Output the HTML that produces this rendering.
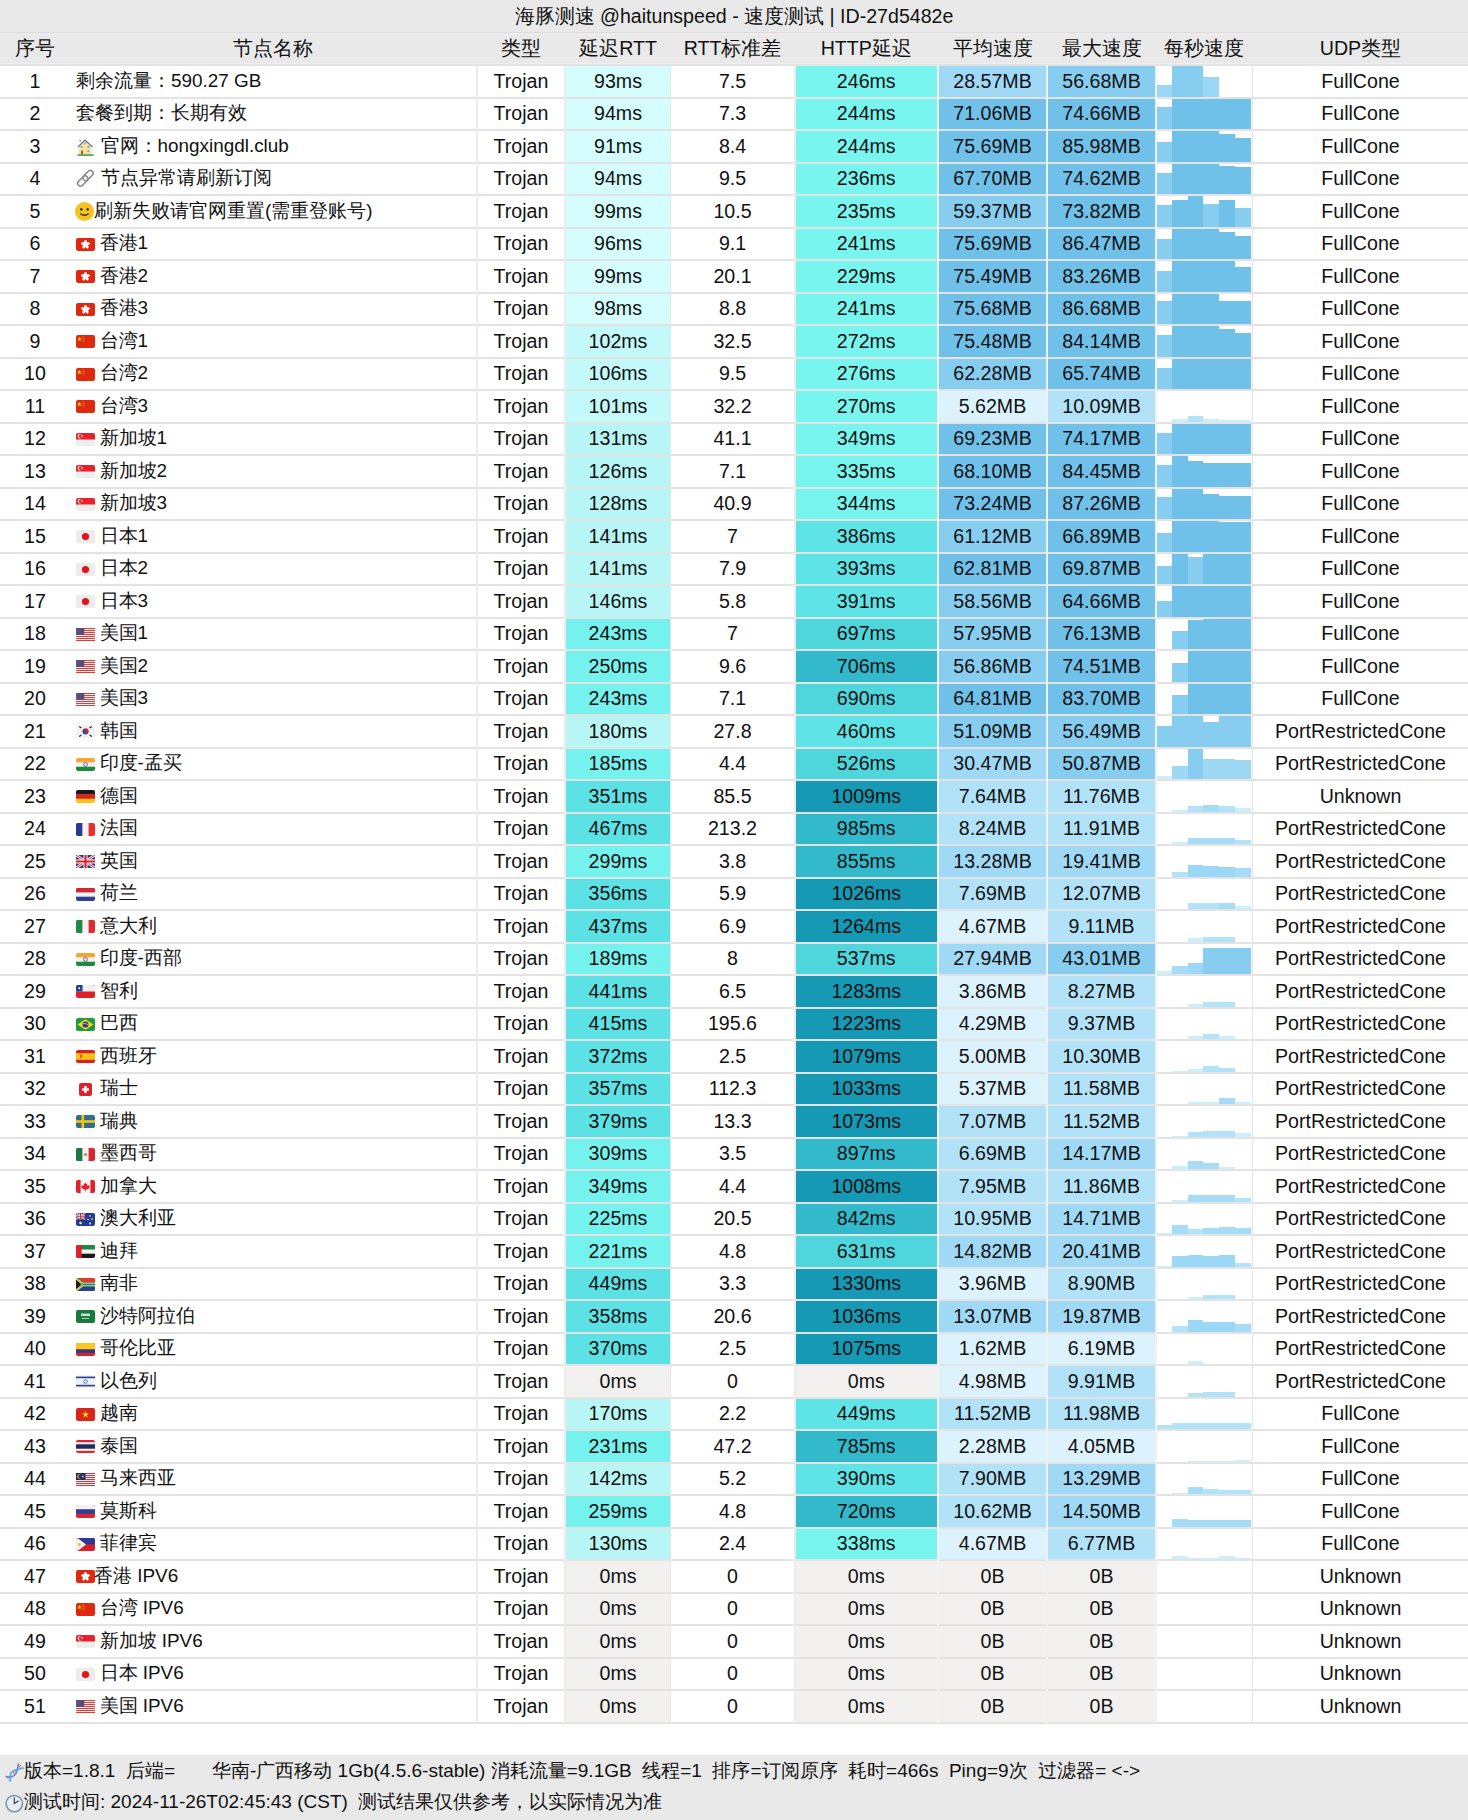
<!DOCTYPE html>
<html><head><meta charset="utf-8">
<style>
*{margin:0;padding:0;box-sizing:border-box}
html,body{width:1468px;height:1820px;overflow:hidden;background:#fff}
body{position:relative;font-family:"Liberation Sans",sans-serif;color:#111;font-size:19.6px}
.a{position:absolute}
.t{position:absolute;white-space:nowrap;line-height:30px;height:30px}
.c{text-align:center}
.bar{position:absolute}
</style></head><body>

<div class="a" style="left:0;top:0;width:1468px;height:65px;background:#e9e9e9"></div>
<div class="a" style="left:0;top:32px;width:1468px;height:1px;background:#dedede"></div>
<div class="a" style="left:0;top:34px;width:1468px;height:1px;background:#efefef"></div>
<div class="a" style="left:0;top:63px;width:1468px;height:1px;background:#efefef"></div>
<div class="t c" style="left:0;top:1px;width:1468px;line-height:30px">海豚测速 @haitunspeed - 速度测试 | ID-27d5482e</div>
<div class="t c" style="left:0px;top:33px;width:70px;line-height:30px">序号</div>
<div class="t c" style="left:70px;top:33px;width:406px;line-height:30px">节点名称</div>
<div class="t c" style="left:478px;top:33px;width:86px;line-height:30px">类型</div>
<div class="t c" style="left:566px;top:33px;width:104px;line-height:30px">延迟RTT</div>
<div class="t c" style="left:671px;top:33px;width:123px;line-height:30px">RTT标准差</div>
<div class="t c" style="left:795.5px;top:33px;width:141.5px;line-height:30px">HTTP延迟</div>
<div class="t c" style="left:939px;top:33px;width:107px;line-height:30px">平均速度</div>
<div class="t c" style="left:1048px;top:33px;width:107px;line-height:30px">最大速度</div>
<div class="t c" style="left:1157px;top:33px;width:94.5px;line-height:30px">每秒速度</div>
<div class="t c" style="left:1253px;top:33px;width:215px;line-height:30px">UDP类型</div>
<div class="a" style="left:566px;top:66.40px;width:104px;height:30.50px;background:#d5fdfd"></div>
<div class="a" style="left:795.5px;top:66.40px;width:141.5px;height:30.50px;background:#78f5ee"></div>
<div class="a" style="left:939px;top:66.40px;width:107px;height:30.50px;background:#a0d9f5"></div>
<div class="a" style="left:1048px;top:66.40px;width:107px;height:30.50px;background:#86cdf0"></div>
<div class="bar" style="left:1157px;top:84.80px;width:15.00px;height:12.10px;background:#9bd8f5"></div>
<div class="bar" style="left:1172px;top:66.40px;width:15.50px;height:30.50px;background:#86cdf0"></div>
<div class="bar" style="left:1187.5px;top:66.40px;width:15.70px;height:30.50px;background:#86cdf0"></div>
<div class="bar" style="left:1203.2px;top:77.20px;width:16.00px;height:19.70px;background:#9bd8f5"></div>
<div class="a" style="left:566px;top:98.90px;width:104px;height:30.50px;background:#d5fdfd"></div>
<div class="a" style="left:795.5px;top:98.90px;width:141.5px;height:30.50px;background:#78f5ee"></div>
<div class="a" style="left:939px;top:98.90px;width:107px;height:30.50px;background:#70c1ea"></div>
<div class="a" style="left:1048px;top:98.90px;width:107px;height:30.50px;background:#70c1ea"></div>
<div class="bar" style="left:1157px;top:107.00px;width:15.00px;height:22.40px;background:#86cdf0"></div>
<div class="bar" style="left:1172px;top:98.90px;width:15.50px;height:30.50px;background:#70c1ea"></div>
<div class="bar" style="left:1187.5px;top:98.90px;width:15.70px;height:30.50px;background:#70c1ea"></div>
<div class="bar" style="left:1203.2px;top:98.90px;width:16.00px;height:30.50px;background:#70c1ea"></div>
<div class="bar" style="left:1219.2px;top:98.90px;width:16.10px;height:30.50px;background:#70c1ea"></div>
<div class="bar" style="left:1235.3px;top:98.90px;width:16.20px;height:30.50px;background:#70c1ea"></div>
<div class="a" style="left:566px;top:131.40px;width:104px;height:30.50px;background:#d5fdfd"></div>
<div class="a" style="left:795.5px;top:131.40px;width:141.5px;height:30.50px;background:#78f5ee"></div>
<div class="a" style="left:939px;top:131.40px;width:107px;height:30.50px;background:#70c1ea"></div>
<div class="a" style="left:1048px;top:131.40px;width:107px;height:30.50px;background:#70c1ea"></div>
<div class="bar" style="left:1157px;top:142.20px;width:15.00px;height:19.70px;background:#86cdf0"></div>
<div class="bar" style="left:1172px;top:131.40px;width:15.50px;height:30.50px;background:#70c1ea"></div>
<div class="bar" style="left:1187.5px;top:131.40px;width:15.70px;height:30.50px;background:#70c1ea"></div>
<div class="bar" style="left:1203.2px;top:131.40px;width:16.00px;height:30.50px;background:#70c1ea"></div>
<div class="bar" style="left:1219.2px;top:134.20px;width:16.10px;height:27.70px;background:#70c1ea"></div>
<div class="bar" style="left:1235.3px;top:138.00px;width:16.20px;height:23.90px;background:#70c1ea"></div>
<div class="a" style="left:566px;top:163.90px;width:104px;height:30.50px;background:#d5fdfd"></div>
<div class="a" style="left:795.5px;top:163.90px;width:141.5px;height:30.50px;background:#78f5ee"></div>
<div class="a" style="left:939px;top:163.90px;width:107px;height:30.50px;background:#70c1ea"></div>
<div class="a" style="left:1048px;top:163.90px;width:107px;height:30.50px;background:#70c1ea"></div>
<div class="bar" style="left:1157px;top:173.00px;width:15.00px;height:21.40px;background:#86cdf0"></div>
<div class="bar" style="left:1172px;top:163.90px;width:15.50px;height:30.50px;background:#70c1ea"></div>
<div class="bar" style="left:1187.5px;top:163.90px;width:15.70px;height:30.50px;background:#70c1ea"></div>
<div class="bar" style="left:1203.2px;top:163.90px;width:16.00px;height:30.50px;background:#70c1ea"></div>
<div class="bar" style="left:1219.2px;top:166.00px;width:16.10px;height:28.40px;background:#70c1ea"></div>
<div class="bar" style="left:1235.3px;top:167.40px;width:16.20px;height:27.00px;background:#70c1ea"></div>
<div class="a" style="left:566px;top:196.40px;width:104px;height:30.50px;background:#d5fdfd"></div>
<div class="a" style="left:795.5px;top:196.40px;width:141.5px;height:30.50px;background:#78f5ee"></div>
<div class="a" style="left:939px;top:196.40px;width:107px;height:30.50px;background:#86cdf0"></div>
<div class="a" style="left:1048px;top:196.40px;width:107px;height:30.50px;background:#70c1ea"></div>
<div class="bar" style="left:1157px;top:205.30px;width:15.00px;height:21.60px;background:#86cdf0"></div>
<div class="bar" style="left:1172px;top:199.70px;width:15.50px;height:27.20px;background:#70c1ea"></div>
<div class="bar" style="left:1187.5px;top:196.40px;width:15.70px;height:30.50px;background:#70c1ea"></div>
<div class="bar" style="left:1203.2px;top:204.40px;width:16.00px;height:22.50px;background:#86cdf0"></div>
<div class="bar" style="left:1219.2px;top:200.20px;width:16.10px;height:26.70px;background:#70c1ea"></div>
<div class="bar" style="left:1235.3px;top:208.20px;width:16.20px;height:18.70px;background:#86cdf0"></div>
<div class="a" style="left:566px;top:228.90px;width:104px;height:30.50px;background:#d5fdfd"></div>
<div class="a" style="left:795.5px;top:228.90px;width:141.5px;height:30.50px;background:#78f5ee"></div>
<div class="a" style="left:939px;top:228.90px;width:107px;height:30.50px;background:#70c1ea"></div>
<div class="a" style="left:1048px;top:228.90px;width:107px;height:30.50px;background:#70c1ea"></div>
<div class="bar" style="left:1157px;top:239.30px;width:15.00px;height:20.10px;background:#86cdf0"></div>
<div class="bar" style="left:1172px;top:228.90px;width:15.50px;height:30.50px;background:#70c1ea"></div>
<div class="bar" style="left:1187.5px;top:228.90px;width:15.70px;height:30.50px;background:#70c1ea"></div>
<div class="bar" style="left:1203.2px;top:228.90px;width:16.00px;height:30.50px;background:#70c1ea"></div>
<div class="bar" style="left:1219.2px;top:232.20px;width:16.10px;height:27.20px;background:#70c1ea"></div>
<div class="bar" style="left:1235.3px;top:236.00px;width:16.20px;height:23.40px;background:#70c1ea"></div>
<div class="a" style="left:566px;top:261.40px;width:104px;height:30.50px;background:#d5fdfd"></div>
<div class="a" style="left:795.5px;top:261.40px;width:141.5px;height:30.50px;background:#78f5ee"></div>
<div class="a" style="left:939px;top:261.40px;width:107px;height:30.50px;background:#70c1ea"></div>
<div class="a" style="left:1048px;top:261.40px;width:107px;height:30.50px;background:#70c1ea"></div>
<div class="bar" style="left:1157px;top:271.00px;width:15.00px;height:20.90px;background:#86cdf0"></div>
<div class="bar" style="left:1172px;top:261.40px;width:15.50px;height:30.50px;background:#70c1ea"></div>
<div class="bar" style="left:1187.5px;top:261.40px;width:15.70px;height:30.50px;background:#70c1ea"></div>
<div class="bar" style="left:1203.2px;top:261.40px;width:16.00px;height:30.50px;background:#70c1ea"></div>
<div class="bar" style="left:1219.2px;top:261.40px;width:16.10px;height:30.50px;background:#70c1ea"></div>
<div class="bar" style="left:1235.3px;top:267.00px;width:16.20px;height:24.90px;background:#70c1ea"></div>
<div class="a" style="left:566px;top:293.90px;width:104px;height:30.50px;background:#d5fdfd"></div>
<div class="a" style="left:795.5px;top:293.90px;width:141.5px;height:30.50px;background:#78f5ee"></div>
<div class="a" style="left:939px;top:293.90px;width:107px;height:30.50px;background:#70c1ea"></div>
<div class="a" style="left:1048px;top:293.90px;width:107px;height:30.50px;background:#70c1ea"></div>
<div class="bar" style="left:1157px;top:301.00px;width:15.00px;height:23.40px;background:#86cdf0"></div>
<div class="bar" style="left:1172px;top:293.90px;width:15.50px;height:30.50px;background:#70c1ea"></div>
<div class="bar" style="left:1187.5px;top:293.90px;width:15.70px;height:30.50px;background:#70c1ea"></div>
<div class="bar" style="left:1203.2px;top:293.90px;width:16.00px;height:30.50px;background:#70c1ea"></div>
<div class="bar" style="left:1219.2px;top:300.60px;width:16.10px;height:23.80px;background:#70c1ea"></div>
<div class="bar" style="left:1235.3px;top:301.40px;width:16.20px;height:23.00px;background:#70c1ea"></div>
<div class="a" style="left:566px;top:326.40px;width:104px;height:30.50px;background:#c3f9f9"></div>
<div class="a" style="left:795.5px;top:326.40px;width:141.5px;height:30.50px;background:#78f5ee"></div>
<div class="a" style="left:939px;top:326.40px;width:107px;height:30.50px;background:#70c1ea"></div>
<div class="a" style="left:1048px;top:326.40px;width:107px;height:30.50px;background:#70c1ea"></div>
<div class="bar" style="left:1157px;top:335.00px;width:15.00px;height:21.90px;background:#86cdf0"></div>
<div class="bar" style="left:1172px;top:326.40px;width:15.50px;height:30.50px;background:#70c1ea"></div>
<div class="bar" style="left:1187.5px;top:326.40px;width:15.70px;height:30.50px;background:#70c1ea"></div>
<div class="bar" style="left:1203.2px;top:326.40px;width:16.00px;height:30.50px;background:#70c1ea"></div>
<div class="bar" style="left:1219.2px;top:329.00px;width:16.10px;height:27.90px;background:#70c1ea"></div>
<div class="bar" style="left:1235.3px;top:332.70px;width:16.20px;height:24.20px;background:#70c1ea"></div>
<div class="a" style="left:566px;top:358.90px;width:104px;height:30.50px;background:#c3f9f9"></div>
<div class="a" style="left:795.5px;top:358.90px;width:141.5px;height:30.50px;background:#78f5ee"></div>
<div class="a" style="left:939px;top:358.90px;width:107px;height:30.50px;background:#86cdf0"></div>
<div class="a" style="left:1048px;top:358.90px;width:107px;height:30.50px;background:#70c1ea"></div>
<div class="bar" style="left:1157px;top:368.00px;width:15.00px;height:21.40px;background:#86cdf0"></div>
<div class="bar" style="left:1172px;top:358.90px;width:15.50px;height:30.50px;background:#70c1ea"></div>
<div class="bar" style="left:1187.5px;top:358.90px;width:15.70px;height:30.50px;background:#70c1ea"></div>
<div class="bar" style="left:1203.2px;top:358.90px;width:16.00px;height:30.50px;background:#70c1ea"></div>
<div class="bar" style="left:1219.2px;top:358.90px;width:16.10px;height:30.50px;background:#70c1ea"></div>
<div class="bar" style="left:1235.3px;top:358.90px;width:16.20px;height:30.50px;background:#70c1ea"></div>
<div class="a" style="left:566px;top:391.40px;width:104px;height:30.50px;background:#c3f9f9"></div>
<div class="a" style="left:795.5px;top:391.40px;width:141.5px;height:30.50px;background:#78f5ee"></div>
<div class="a" style="left:939px;top:391.40px;width:107px;height:30.50px;background:#dcf2fd"></div>
<div class="a" style="left:1048px;top:391.40px;width:107px;height:30.50px;background:#b1e2f8"></div>
<div class="bar" style="left:1172px;top:418.60px;width:15.50px;height:3.30px;background:#cdeefb"></div>
<div class="bar" style="left:1187.5px;top:416.30px;width:15.70px;height:5.60px;background:#b3e3f8"></div>
<div class="bar" style="left:1203.2px;top:419.00px;width:16.00px;height:2.90px;background:#cdeefb"></div>
<div class="bar" style="left:1219.2px;top:420.00px;width:16.10px;height:1.90px;background:#cdeefb"></div>
<div class="bar" style="left:1235.3px;top:420.00px;width:16.20px;height:1.90px;background:#cdeefb"></div>
<div class="a" style="left:566px;top:423.90px;width:104px;height:30.50px;background:#b8f6f6"></div>
<div class="a" style="left:795.5px;top:423.90px;width:141.5px;height:30.50px;background:#78f5ee"></div>
<div class="a" style="left:939px;top:423.90px;width:107px;height:30.50px;background:#70c1ea"></div>
<div class="a" style="left:1048px;top:423.90px;width:107px;height:30.50px;background:#70c1ea"></div>
<div class="bar" style="left:1157px;top:433.00px;width:15.00px;height:21.40px;background:#86cdf0"></div>
<div class="bar" style="left:1172px;top:423.90px;width:15.50px;height:30.50px;background:#70c1ea"></div>
<div class="bar" style="left:1187.5px;top:423.90px;width:15.70px;height:30.50px;background:#70c1ea"></div>
<div class="bar" style="left:1203.2px;top:423.90px;width:16.00px;height:30.50px;background:#70c1ea"></div>
<div class="bar" style="left:1219.2px;top:423.90px;width:16.10px;height:30.50px;background:#70c1ea"></div>
<div class="bar" style="left:1235.3px;top:423.90px;width:16.20px;height:30.50px;background:#70c1ea"></div>
<div class="a" style="left:566px;top:456.40px;width:104px;height:30.50px;background:#b8f6f6"></div>
<div class="a" style="left:795.5px;top:456.40px;width:141.5px;height:30.50px;background:#78f5ee"></div>
<div class="a" style="left:939px;top:456.40px;width:107px;height:30.50px;background:#70c1ea"></div>
<div class="a" style="left:1048px;top:456.40px;width:107px;height:30.50px;background:#70c1ea"></div>
<div class="bar" style="left:1157px;top:465.20px;width:15.00px;height:21.70px;background:#86cdf0"></div>
<div class="bar" style="left:1172px;top:456.40px;width:15.50px;height:30.50px;background:#70c1ea"></div>
<div class="bar" style="left:1187.5px;top:460.70px;width:15.70px;height:26.20px;background:#70c1ea"></div>
<div class="bar" style="left:1203.2px;top:462.90px;width:16.00px;height:24.00px;background:#70c1ea"></div>
<div class="bar" style="left:1219.2px;top:462.90px;width:16.10px;height:24.00px;background:#70c1ea"></div>
<div class="bar" style="left:1235.3px;top:462.90px;width:16.20px;height:24.00px;background:#70c1ea"></div>
<div class="a" style="left:566px;top:488.90px;width:104px;height:30.50px;background:#b8f6f6"></div>
<div class="a" style="left:795.5px;top:488.90px;width:141.5px;height:30.50px;background:#78f5ee"></div>
<div class="a" style="left:939px;top:488.90px;width:107px;height:30.50px;background:#70c1ea"></div>
<div class="a" style="left:1048px;top:488.90px;width:107px;height:30.50px;background:#70c1ea"></div>
<div class="bar" style="left:1157px;top:497.00px;width:15.00px;height:22.40px;background:#86cdf0"></div>
<div class="bar" style="left:1172px;top:488.90px;width:15.50px;height:30.50px;background:#70c1ea"></div>
<div class="bar" style="left:1187.5px;top:488.90px;width:15.70px;height:30.50px;background:#70c1ea"></div>
<div class="bar" style="left:1203.2px;top:493.70px;width:16.00px;height:25.70px;background:#70c1ea"></div>
<div class="bar" style="left:1219.2px;top:496.40px;width:16.10px;height:23.00px;background:#70c1ea"></div>
<div class="bar" style="left:1235.3px;top:496.40px;width:16.20px;height:23.00px;background:#70c1ea"></div>
<div class="a" style="left:566px;top:521.40px;width:104px;height:30.50px;background:#b8f6f6"></div>
<div class="a" style="left:795.5px;top:521.40px;width:141.5px;height:30.50px;background:#5ee4e6"></div>
<div class="a" style="left:939px;top:521.40px;width:107px;height:30.50px;background:#86cdf0"></div>
<div class="a" style="left:1048px;top:521.40px;width:107px;height:30.50px;background:#70c1ea"></div>
<div class="bar" style="left:1157px;top:533.20px;width:15.00px;height:18.70px;background:#86cdf0"></div>
<div class="bar" style="left:1172px;top:521.40px;width:15.50px;height:30.50px;background:#70c1ea"></div>
<div class="bar" style="left:1187.5px;top:521.40px;width:15.70px;height:30.50px;background:#70c1ea"></div>
<div class="bar" style="left:1203.2px;top:521.40px;width:16.00px;height:30.50px;background:#70c1ea"></div>
<div class="bar" style="left:1219.2px;top:522.00px;width:16.10px;height:29.90px;background:#70c1ea"></div>
<div class="bar" style="left:1235.3px;top:522.00px;width:16.20px;height:29.90px;background:#70c1ea"></div>
<div class="a" style="left:566px;top:553.90px;width:104px;height:30.50px;background:#b8f6f6"></div>
<div class="a" style="left:795.5px;top:553.90px;width:141.5px;height:30.50px;background:#5ee4e6"></div>
<div class="a" style="left:939px;top:553.90px;width:107px;height:30.50px;background:#70c1ea"></div>
<div class="a" style="left:1048px;top:553.90px;width:107px;height:30.50px;background:#70c1ea"></div>
<div class="bar" style="left:1157px;top:565.90px;width:15.00px;height:18.50px;background:#86cdf0"></div>
<div class="bar" style="left:1172px;top:553.90px;width:15.50px;height:30.50px;background:#70c1ea"></div>
<div class="bar" style="left:1187.5px;top:556.80px;width:15.70px;height:27.60px;background:#86cdf0"></div>
<div class="bar" style="left:1203.2px;top:553.90px;width:16.00px;height:30.50px;background:#70c1ea"></div>
<div class="bar" style="left:1219.2px;top:553.90px;width:16.10px;height:30.50px;background:#70c1ea"></div>
<div class="bar" style="left:1235.3px;top:553.90px;width:16.20px;height:30.50px;background:#70c1ea"></div>
<div class="a" style="left:566px;top:586.40px;width:104px;height:30.50px;background:#b8f6f6"></div>
<div class="a" style="left:795.5px;top:586.40px;width:141.5px;height:30.50px;background:#5ee4e6"></div>
<div class="a" style="left:939px;top:586.40px;width:107px;height:30.50px;background:#86cdf0"></div>
<div class="a" style="left:1048px;top:586.40px;width:107px;height:30.50px;background:#70c1ea"></div>
<div class="bar" style="left:1157px;top:600.90px;width:15.00px;height:16.00px;background:#86cdf0"></div>
<div class="bar" style="left:1172px;top:586.40px;width:15.50px;height:30.50px;background:#70c1ea"></div>
<div class="bar" style="left:1187.5px;top:586.40px;width:15.70px;height:30.50px;background:#70c1ea"></div>
<div class="bar" style="left:1203.2px;top:586.40px;width:16.00px;height:30.50px;background:#70c1ea"></div>
<div class="bar" style="left:1219.2px;top:586.40px;width:16.10px;height:30.50px;background:#70c1ea"></div>
<div class="bar" style="left:1235.3px;top:586.40px;width:16.20px;height:30.50px;background:#70c1ea"></div>
<div class="a" style="left:566px;top:618.90px;width:104px;height:30.50px;background:#76f2ee"></div>
<div class="a" style="left:795.5px;top:618.90px;width:141.5px;height:30.50px;background:#4fd5dc"></div>
<div class="a" style="left:939px;top:618.90px;width:107px;height:30.50px;background:#86cdf0"></div>
<div class="a" style="left:1048px;top:618.90px;width:107px;height:30.50px;background:#70c1ea"></div>
<div class="bar" style="left:1172px;top:630.80px;width:15.50px;height:18.60px;background:#86cdf0"></div>
<div class="bar" style="left:1187.5px;top:620.30px;width:15.70px;height:29.10px;background:#70c1ea"></div>
<div class="bar" style="left:1203.2px;top:618.90px;width:16.00px;height:30.50px;background:#70c1ea"></div>
<div class="bar" style="left:1219.2px;top:618.90px;width:16.10px;height:30.50px;background:#70c1ea"></div>
<div class="bar" style="left:1235.3px;top:618.90px;width:16.20px;height:30.50px;background:#70c1ea"></div>
<div class="a" style="left:566px;top:651.40px;width:104px;height:30.50px;background:#76f2ee"></div>
<div class="a" style="left:795.5px;top:651.40px;width:141.5px;height:30.50px;background:#33b9cc"></div>
<div class="a" style="left:939px;top:651.40px;width:107px;height:30.50px;background:#86cdf0"></div>
<div class="a" style="left:1048px;top:651.40px;width:107px;height:30.50px;background:#70c1ea"></div>
<div class="bar" style="left:1172px;top:663.20px;width:15.50px;height:18.70px;background:#86cdf0"></div>
<div class="bar" style="left:1187.5px;top:651.40px;width:15.70px;height:30.50px;background:#70c1ea"></div>
<div class="bar" style="left:1203.2px;top:651.40px;width:16.00px;height:30.50px;background:#70c1ea"></div>
<div class="bar" style="left:1219.2px;top:651.40px;width:16.10px;height:30.50px;background:#70c1ea"></div>
<div class="bar" style="left:1235.3px;top:651.40px;width:16.20px;height:30.50px;background:#70c1ea"></div>
<div class="a" style="left:566px;top:683.90px;width:104px;height:30.50px;background:#76f2ee"></div>
<div class="a" style="left:795.5px;top:683.90px;width:141.5px;height:30.50px;background:#4fd5dc"></div>
<div class="a" style="left:939px;top:683.90px;width:107px;height:30.50px;background:#70c1ea"></div>
<div class="a" style="left:1048px;top:683.90px;width:107px;height:30.50px;background:#70c1ea"></div>
<div class="bar" style="left:1172px;top:695.00px;width:15.50px;height:19.40px;background:#86cdf0"></div>
<div class="bar" style="left:1187.5px;top:683.90px;width:15.70px;height:30.50px;background:#70c1ea"></div>
<div class="bar" style="left:1203.2px;top:683.90px;width:16.00px;height:30.50px;background:#70c1ea"></div>
<div class="bar" style="left:1219.2px;top:683.90px;width:16.10px;height:30.50px;background:#70c1ea"></div>
<div class="bar" style="left:1235.3px;top:683.90px;width:16.20px;height:30.50px;background:#70c1ea"></div>
<div class="a" style="left:566px;top:716.40px;width:104px;height:30.50px;background:#b8f6f6"></div>
<div class="a" style="left:795.5px;top:716.40px;width:141.5px;height:30.50px;background:#5ee4e6"></div>
<div class="a" style="left:939px;top:716.40px;width:107px;height:30.50px;background:#86cdf0"></div>
<div class="a" style="left:1048px;top:716.40px;width:107px;height:30.50px;background:#86cdf0"></div>
<div class="bar" style="left:1157px;top:726.30px;width:15.00px;height:20.60px;background:#86cdf0"></div>
<div class="bar" style="left:1172px;top:716.40px;width:15.50px;height:30.50px;background:#86cdf0"></div>
<div class="bar" style="left:1187.5px;top:716.40px;width:15.70px;height:30.50px;background:#86cdf0"></div>
<div class="bar" style="left:1203.2px;top:721.80px;width:16.00px;height:25.10px;background:#86cdf0"></div>
<div class="bar" style="left:1219.2px;top:716.40px;width:16.10px;height:30.50px;background:#86cdf0"></div>
<div class="bar" style="left:1235.3px;top:716.40px;width:16.20px;height:30.50px;background:#86cdf0"></div>
<div class="a" style="left:566px;top:748.90px;width:104px;height:30.50px;background:#76f2ee"></div>
<div class="a" style="left:795.5px;top:748.90px;width:141.5px;height:30.50px;background:#4fd5dc"></div>
<div class="a" style="left:939px;top:748.90px;width:107px;height:30.50px;background:#a0d9f5"></div>
<div class="a" style="left:1048px;top:748.90px;width:107px;height:30.50px;background:#86cdf0"></div>
<div class="bar" style="left:1157px;top:776.20px;width:15.00px;height:3.20px;background:#cdeefb"></div>
<div class="bar" style="left:1172px;top:765.80px;width:15.50px;height:13.60px;background:#9dd8f5"></div>
<div class="bar" style="left:1187.5px;top:748.90px;width:15.70px;height:30.50px;background:#86cdf0"></div>
<div class="bar" style="left:1203.2px;top:758.60px;width:16.00px;height:20.80px;background:#9dd8f5"></div>
<div class="bar" style="left:1219.2px;top:758.60px;width:16.10px;height:20.80px;background:#9dd8f5"></div>
<div class="bar" style="left:1235.3px;top:759.90px;width:16.20px;height:19.50px;background:#9dd8f5"></div>
<div class="a" style="left:566px;top:781.40px;width:104px;height:30.50px;background:#5ce2e5"></div>
<div class="a" style="left:795.5px;top:781.40px;width:141.5px;height:30.50px;background:#1699b4"></div>
<div class="a" style="left:939px;top:781.40px;width:107px;height:30.50px;background:#b1e2f8"></div>
<div class="a" style="left:1048px;top:781.40px;width:107px;height:30.50px;background:#b1e2f8"></div>
<div class="bar" style="left:1172px;top:809.70px;width:15.50px;height:2.20px;background:#cdeefb"></div>
<div class="bar" style="left:1187.5px;top:805.70px;width:15.70px;height:6.20px;background:#b3e3f8"></div>
<div class="bar" style="left:1203.2px;top:804.80px;width:16.00px;height:7.10px;background:#a7dcf6"></div>
<div class="bar" style="left:1219.2px;top:805.70px;width:16.10px;height:6.20px;background:#b3e3f8"></div>
<div class="bar" style="left:1235.3px;top:808.00px;width:16.20px;height:3.90px;background:#cdeefb"></div>
<div class="a" style="left:566px;top:813.90px;width:104px;height:30.50px;background:#5ce2e5"></div>
<div class="a" style="left:795.5px;top:813.90px;width:141.5px;height:30.50px;background:#33b9cc"></div>
<div class="a" style="left:939px;top:813.90px;width:107px;height:30.50px;background:#b1e2f8"></div>
<div class="a" style="left:1048px;top:813.90px;width:107px;height:30.50px;background:#b1e2f8"></div>
<div class="bar" style="left:1172px;top:842.40px;width:15.50px;height:2.00px;background:#cdeefb"></div>
<div class="bar" style="left:1187.5px;top:837.80px;width:15.70px;height:6.60px;background:#a7dcf6"></div>
<div class="bar" style="left:1203.2px;top:837.80px;width:16.00px;height:6.60px;background:#a7dcf6"></div>
<div class="bar" style="left:1219.2px;top:837.80px;width:16.10px;height:6.60px;background:#a7dcf6"></div>
<div class="bar" style="left:1235.3px;top:839.60px;width:16.20px;height:4.80px;background:#b3e3f8"></div>
<div class="a" style="left:566px;top:846.40px;width:104px;height:30.50px;background:#76f2ee"></div>
<div class="a" style="left:795.5px;top:846.40px;width:141.5px;height:30.50px;background:#33b9cc"></div>
<div class="a" style="left:939px;top:846.40px;width:107px;height:30.50px;background:#a0d9f5"></div>
<div class="a" style="left:1048px;top:846.40px;width:107px;height:30.50px;background:#a0d9f5"></div>
<div class="bar" style="left:1172px;top:872.00px;width:15.50px;height:4.90px;background:#b3e3f8"></div>
<div class="bar" style="left:1187.5px;top:865.00px;width:15.70px;height:11.90px;background:#9bd8f5"></div>
<div class="bar" style="left:1203.2px;top:866.00px;width:16.00px;height:10.90px;background:#9bd8f5"></div>
<div class="bar" style="left:1219.2px;top:866.50px;width:16.10px;height:10.40px;background:#9bd8f5"></div>
<div class="bar" style="left:1235.3px;top:867.70px;width:16.20px;height:9.20px;background:#a7dcf6"></div>
<div class="a" style="left:566px;top:878.90px;width:104px;height:30.50px;background:#5ce2e5"></div>
<div class="a" style="left:795.5px;top:878.90px;width:141.5px;height:30.50px;background:#1699b4"></div>
<div class="a" style="left:939px;top:878.90px;width:107px;height:30.50px;background:#b1e2f8"></div>
<div class="a" style="left:1048px;top:878.90px;width:107px;height:30.50px;background:#b1e2f8"></div>
<div class="bar" style="left:1172px;top:908.50px;width:15.50px;height:0.90px;background:#cdeefb"></div>
<div class="bar" style="left:1187.5px;top:903.00px;width:15.70px;height:6.40px;background:#b3e3f8"></div>
<div class="bar" style="left:1203.2px;top:903.00px;width:16.00px;height:6.40px;background:#b3e3f8"></div>
<div class="bar" style="left:1219.2px;top:902.60px;width:16.10px;height:6.80px;background:#a7dcf6"></div>
<div class="bar" style="left:1235.3px;top:905.80px;width:16.20px;height:3.60px;background:#cdeefb"></div>
<div class="a" style="left:566px;top:911.40px;width:104px;height:30.50px;background:#5ce2e5"></div>
<div class="a" style="left:795.5px;top:911.40px;width:141.5px;height:30.50px;background:#1699b4"></div>
<div class="a" style="left:939px;top:911.40px;width:107px;height:30.50px;background:#dcf2fd"></div>
<div class="a" style="left:1048px;top:911.40px;width:107px;height:30.50px;background:#b1e2f8"></div>
<div class="bar" style="left:1187.5px;top:938.00px;width:15.70px;height:3.90px;background:#cdeefb"></div>
<div class="bar" style="left:1203.2px;top:937.00px;width:16.00px;height:4.90px;background:#b3e3f8"></div>
<div class="bar" style="left:1219.2px;top:937.00px;width:16.10px;height:4.90px;background:#b3e3f8"></div>
<div class="a" style="left:566px;top:943.90px;width:104px;height:30.50px;background:#76f2ee"></div>
<div class="a" style="left:795.5px;top:943.90px;width:141.5px;height:30.50px;background:#4fd5dc"></div>
<div class="a" style="left:939px;top:943.90px;width:107px;height:30.50px;background:#a0d9f5"></div>
<div class="a" style="left:1048px;top:943.90px;width:107px;height:30.50px;background:#86cdf0"></div>
<div class="bar" style="left:1157px;top:971.00px;width:15.00px;height:3.40px;background:#cdeefb"></div>
<div class="bar" style="left:1172px;top:966.00px;width:15.50px;height:8.40px;background:#a7dcf6"></div>
<div class="bar" style="left:1187.5px;top:962.60px;width:15.70px;height:11.80px;background:#9bd8f5"></div>
<div class="bar" style="left:1203.2px;top:947.90px;width:16.00px;height:26.50px;background:#86cdf0"></div>
<div class="bar" style="left:1219.2px;top:947.90px;width:16.10px;height:26.50px;background:#86cdf0"></div>
<div class="bar" style="left:1235.3px;top:947.90px;width:16.20px;height:26.50px;background:#86cdf0"></div>
<div class="a" style="left:566px;top:976.40px;width:104px;height:30.50px;background:#5ce2e5"></div>
<div class="a" style="left:795.5px;top:976.40px;width:141.5px;height:30.50px;background:#1699b4"></div>
<div class="a" style="left:939px;top:976.40px;width:107px;height:30.50px;background:#dcf2fd"></div>
<div class="a" style="left:1048px;top:976.40px;width:107px;height:30.50px;background:#b1e2f8"></div>
<div class="bar" style="left:1187.5px;top:1004.00px;width:15.70px;height:2.90px;background:#cdeefb"></div>
<div class="bar" style="left:1203.2px;top:1002.30px;width:16.00px;height:4.60px;background:#b3e3f8"></div>
<div class="bar" style="left:1219.2px;top:1002.30px;width:16.10px;height:4.60px;background:#b3e3f8"></div>
<div class="a" style="left:566px;top:1008.90px;width:104px;height:30.50px;background:#5ce2e5"></div>
<div class="a" style="left:795.5px;top:1008.90px;width:141.5px;height:30.50px;background:#1699b4"></div>
<div class="a" style="left:939px;top:1008.90px;width:107px;height:30.50px;background:#dcf2fd"></div>
<div class="a" style="left:1048px;top:1008.90px;width:107px;height:30.50px;background:#b1e2f8"></div>
<div class="bar" style="left:1187.5px;top:1036.40px;width:15.70px;height:3.00px;background:#cdeefb"></div>
<div class="bar" style="left:1203.2px;top:1034.20px;width:16.00px;height:5.20px;background:#b3e3f8"></div>
<div class="bar" style="left:1219.2px;top:1036.40px;width:16.10px;height:3.00px;background:#cdeefb"></div>
<div class="a" style="left:566px;top:1041.40px;width:104px;height:30.50px;background:#5ce2e5"></div>
<div class="a" style="left:795.5px;top:1041.40px;width:141.5px;height:30.50px;background:#1699b4"></div>
<div class="a" style="left:939px;top:1041.40px;width:107px;height:30.50px;background:#dcf2fd"></div>
<div class="a" style="left:1048px;top:1041.40px;width:107px;height:30.50px;background:#b1e2f8"></div>
<div class="bar" style="left:1172px;top:1071.00px;width:15.50px;height:0.90px;background:#cdeefb"></div>
<div class="bar" style="left:1187.5px;top:1068.50px;width:15.70px;height:3.40px;background:#cdeefb"></div>
<div class="bar" style="left:1203.2px;top:1066.20px;width:16.00px;height:5.70px;background:#b3e3f8"></div>
<div class="bar" style="left:1219.2px;top:1067.60px;width:16.10px;height:4.30px;background:#b3e3f8"></div>
<div class="a" style="left:566px;top:1073.90px;width:104px;height:30.50px;background:#5ce2e5"></div>
<div class="a" style="left:795.5px;top:1073.90px;width:141.5px;height:30.50px;background:#1699b4"></div>
<div class="a" style="left:939px;top:1073.90px;width:107px;height:30.50px;background:#dcf2fd"></div>
<div class="a" style="left:1048px;top:1073.90px;width:107px;height:30.50px;background:#b1e2f8"></div>
<div class="bar" style="left:1172px;top:1103.80px;width:15.50px;height:0.60px;background:#cdeefb"></div>
<div class="bar" style="left:1187.5px;top:1102.00px;width:15.70px;height:2.40px;background:#cdeefb"></div>
<div class="bar" style="left:1203.2px;top:1102.00px;width:16.00px;height:2.40px;background:#cdeefb"></div>
<div class="bar" style="left:1219.2px;top:1097.60px;width:16.10px;height:6.80px;background:#a7dcf6"></div>
<div class="bar" style="left:1235.3px;top:1101.70px;width:16.20px;height:2.70px;background:#cdeefb"></div>
<div class="a" style="left:566px;top:1106.40px;width:104px;height:30.50px;background:#5ce2e5"></div>
<div class="a" style="left:795.5px;top:1106.40px;width:141.5px;height:30.50px;background:#1699b4"></div>
<div class="a" style="left:939px;top:1106.40px;width:107px;height:30.50px;background:#b1e2f8"></div>
<div class="a" style="left:1048px;top:1106.40px;width:107px;height:30.50px;background:#b1e2f8"></div>
<div class="bar" style="left:1172px;top:1136.10px;width:15.50px;height:0.80px;background:#cdeefb"></div>
<div class="bar" style="left:1187.5px;top:1132.00px;width:15.70px;height:4.90px;background:#b3e3f8"></div>
<div class="bar" style="left:1203.2px;top:1131.00px;width:16.00px;height:5.90px;background:#b3e3f8"></div>
<div class="bar" style="left:1219.2px;top:1130.70px;width:16.10px;height:6.20px;background:#b3e3f8"></div>
<div class="bar" style="left:1235.3px;top:1133.00px;width:16.20px;height:3.90px;background:#cdeefb"></div>
<div class="a" style="left:566px;top:1138.90px;width:104px;height:30.50px;background:#76f2ee"></div>
<div class="a" style="left:795.5px;top:1138.90px;width:141.5px;height:30.50px;background:#33b9cc"></div>
<div class="a" style="left:939px;top:1138.90px;width:107px;height:30.50px;background:#b1e2f8"></div>
<div class="a" style="left:1048px;top:1138.90px;width:107px;height:30.50px;background:#a0d9f5"></div>
<div class="bar" style="left:1172px;top:1165.60px;width:15.50px;height:3.80px;background:#cdeefb"></div>
<div class="bar" style="left:1187.5px;top:1161.00px;width:15.70px;height:8.40px;background:#a7dcf6"></div>
<div class="bar" style="left:1203.2px;top:1162.80px;width:16.00px;height:6.60px;background:#a7dcf6"></div>
<div class="bar" style="left:1219.2px;top:1166.80px;width:16.10px;height:2.60px;background:#cdeefb"></div>
<div class="a" style="left:566px;top:1171.40px;width:104px;height:30.50px;background:#76f2ee"></div>
<div class="a" style="left:795.5px;top:1171.40px;width:141.5px;height:30.50px;background:#1699b4"></div>
<div class="a" style="left:939px;top:1171.40px;width:107px;height:30.50px;background:#b1e2f8"></div>
<div class="a" style="left:1048px;top:1171.40px;width:107px;height:30.50px;background:#b1e2f8"></div>
<div class="bar" style="left:1172px;top:1199.60px;width:15.50px;height:2.30px;background:#cdeefb"></div>
<div class="bar" style="left:1187.5px;top:1195.00px;width:15.70px;height:6.90px;background:#a7dcf6"></div>
<div class="bar" style="left:1203.2px;top:1195.00px;width:16.00px;height:6.90px;background:#a7dcf6"></div>
<div class="bar" style="left:1219.2px;top:1195.00px;width:16.10px;height:6.90px;background:#a7dcf6"></div>
<div class="bar" style="left:1235.3px;top:1197.80px;width:16.20px;height:4.10px;background:#b3e3f8"></div>
<div class="a" style="left:566px;top:1203.90px;width:104px;height:30.50px;background:#76f2ee"></div>
<div class="a" style="left:795.5px;top:1203.90px;width:141.5px;height:30.50px;background:#33b9cc"></div>
<div class="a" style="left:939px;top:1203.90px;width:107px;height:30.50px;background:#b1e2f8"></div>
<div class="a" style="left:1048px;top:1203.90px;width:107px;height:30.50px;background:#a0d9f5"></div>
<div class="bar" style="left:1157px;top:1233.00px;width:15.00px;height:1.40px;background:#cdeefb"></div>
<div class="bar" style="left:1172px;top:1225.40px;width:15.50px;height:9.00px;background:#a7dcf6"></div>
<div class="bar" style="left:1187.5px;top:1229.00px;width:15.70px;height:5.40px;background:#b3e3f8"></div>
<div class="bar" style="left:1203.2px;top:1227.70px;width:16.00px;height:6.70px;background:#a7dcf6"></div>
<div class="bar" style="left:1219.2px;top:1226.80px;width:16.10px;height:7.60px;background:#a7dcf6"></div>
<div class="bar" style="left:1235.3px;top:1227.70px;width:16.20px;height:6.70px;background:#a7dcf6"></div>
<div class="a" style="left:566px;top:1236.40px;width:104px;height:30.50px;background:#76f2ee"></div>
<div class="a" style="left:795.5px;top:1236.40px;width:141.5px;height:30.50px;background:#4fd5dc"></div>
<div class="a" style="left:939px;top:1236.40px;width:107px;height:30.50px;background:#a0d9f5"></div>
<div class="a" style="left:1048px;top:1236.40px;width:107px;height:30.50px;background:#a0d9f5"></div>
<div class="bar" style="left:1157px;top:1266.10px;width:15.00px;height:0.80px;background:#cdeefb"></div>
<div class="bar" style="left:1172px;top:1255.70px;width:15.50px;height:11.20px;background:#9bd8f5"></div>
<div class="bar" style="left:1187.5px;top:1254.80px;width:15.70px;height:12.10px;background:#9bd8f5"></div>
<div class="bar" style="left:1203.2px;top:1255.70px;width:16.00px;height:11.20px;background:#9bd8f5"></div>
<div class="bar" style="left:1219.2px;top:1255.00px;width:16.10px;height:11.90px;background:#9bd8f5"></div>
<div class="bar" style="left:1235.3px;top:1262.60px;width:16.20px;height:4.30px;background:#b3e3f8"></div>
<div class="a" style="left:566px;top:1268.90px;width:104px;height:30.50px;background:#5ce2e5"></div>
<div class="a" style="left:795.5px;top:1268.90px;width:141.5px;height:30.50px;background:#1699b4"></div>
<div class="a" style="left:939px;top:1268.90px;width:107px;height:30.50px;background:#dcf2fd"></div>
<div class="a" style="left:1048px;top:1268.90px;width:107px;height:30.50px;background:#b1e2f8"></div>
<div class="bar" style="left:1187.5px;top:1297.00px;width:15.70px;height:2.40px;background:#cdeefb"></div>
<div class="bar" style="left:1203.2px;top:1294.80px;width:16.00px;height:4.60px;background:#b3e3f8"></div>
<div class="bar" style="left:1219.2px;top:1294.80px;width:16.10px;height:4.60px;background:#b3e3f8"></div>
<div class="a" style="left:566px;top:1301.40px;width:104px;height:30.50px;background:#5ce2e5"></div>
<div class="a" style="left:795.5px;top:1301.40px;width:141.5px;height:30.50px;background:#1699b4"></div>
<div class="a" style="left:939px;top:1301.40px;width:107px;height:30.50px;background:#a0d9f5"></div>
<div class="a" style="left:1048px;top:1301.40px;width:107px;height:30.50px;background:#a0d9f5"></div>
<div class="bar" style="left:1172px;top:1326.00px;width:15.50px;height:5.90px;background:#b3e3f8"></div>
<div class="bar" style="left:1187.5px;top:1320.00px;width:15.70px;height:11.90px;background:#9bd8f5"></div>
<div class="bar" style="left:1203.2px;top:1321.90px;width:16.00px;height:10.00px;background:#9bd8f5"></div>
<div class="bar" style="left:1219.2px;top:1321.90px;width:16.10px;height:10.00px;background:#9bd8f5"></div>
<div class="bar" style="left:1235.3px;top:1323.90px;width:16.20px;height:8.00px;background:#a7dcf6"></div>
<div class="a" style="left:566px;top:1333.90px;width:104px;height:30.50px;background:#5ce2e5"></div>
<div class="a" style="left:795.5px;top:1333.90px;width:141.5px;height:30.50px;background:#1699b4"></div>
<div class="a" style="left:939px;top:1333.90px;width:107px;height:30.50px;background:#dcf2fd"></div>
<div class="a" style="left:1048px;top:1333.90px;width:107px;height:30.50px;background:#dcf2fd"></div>
<div class="bar" style="left:1187.5px;top:1361.40px;width:15.70px;height:3.00px;background:#cdeefb"></div>
<div class="a" style="left:566px;top:1366.40px;width:104px;height:30.50px;background:#f2f1f0"></div>
<div class="a" style="left:795.5px;top:1366.40px;width:141.5px;height:30.50px;background:#f2f1f0"></div>
<div class="a" style="left:939px;top:1366.40px;width:107px;height:30.50px;background:#dcf2fd"></div>
<div class="a" style="left:1048px;top:1366.40px;width:107px;height:30.50px;background:#b1e2f8"></div>
<div class="bar" style="left:1187.5px;top:1392.50px;width:15.70px;height:4.40px;background:#b3e3f8"></div>
<div class="bar" style="left:1203.2px;top:1392.00px;width:16.00px;height:4.90px;background:#b3e3f8"></div>
<div class="bar" style="left:1219.2px;top:1391.50px;width:16.10px;height:5.40px;background:#b3e3f8"></div>
<div class="a" style="left:566px;top:1398.90px;width:104px;height:30.50px;background:#b8f6f6"></div>
<div class="a" style="left:795.5px;top:1398.90px;width:141.5px;height:30.50px;background:#5ee4e6"></div>
<div class="a" style="left:939px;top:1398.90px;width:107px;height:30.50px;background:#b1e2f8"></div>
<div class="a" style="left:1048px;top:1398.90px;width:107px;height:30.50px;background:#b1e2f8"></div>
<div class="bar" style="left:1157px;top:1424.60px;width:15.00px;height:4.80px;background:#b3e3f8"></div>
<div class="bar" style="left:1172px;top:1423.00px;width:15.50px;height:6.40px;background:#b3e3f8"></div>
<div class="bar" style="left:1187.5px;top:1423.00px;width:15.70px;height:6.40px;background:#b3e3f8"></div>
<div class="bar" style="left:1203.2px;top:1423.00px;width:16.00px;height:6.40px;background:#b3e3f8"></div>
<div class="bar" style="left:1219.2px;top:1423.00px;width:16.10px;height:6.40px;background:#b3e3f8"></div>
<div class="bar" style="left:1235.3px;top:1423.00px;width:16.20px;height:6.40px;background:#b3e3f8"></div>
<div class="a" style="left:566px;top:1431.40px;width:104px;height:30.50px;background:#76f2ee"></div>
<div class="a" style="left:795.5px;top:1431.40px;width:141.5px;height:30.50px;background:#33b9cc"></div>
<div class="a" style="left:939px;top:1431.40px;width:107px;height:30.50px;background:#dcf2fd"></div>
<div class="a" style="left:1048px;top:1431.40px;width:107px;height:30.50px;background:#dcf2fd"></div>
<div class="bar" style="left:1187.5px;top:1461.00px;width:15.70px;height:0.90px;background:#cdeefb"></div>
<div class="bar" style="left:1203.2px;top:1461.00px;width:16.00px;height:0.90px;background:#cdeefb"></div>
<div class="bar" style="left:1219.2px;top:1461.00px;width:16.10px;height:0.90px;background:#cdeefb"></div>
<div class="bar" style="left:1235.3px;top:1460.00px;width:16.20px;height:1.90px;background:#cdeefb"></div>
<div class="a" style="left:566px;top:1463.90px;width:104px;height:30.50px;background:#b8f6f6"></div>
<div class="a" style="left:795.5px;top:1463.90px;width:141.5px;height:30.50px;background:#5ee4e6"></div>
<div class="a" style="left:939px;top:1463.90px;width:107px;height:30.50px;background:#b1e2f8"></div>
<div class="a" style="left:1048px;top:1463.90px;width:107px;height:30.50px;background:#a0d9f5"></div>
<div class="bar" style="left:1172px;top:1492.50px;width:15.50px;height:1.90px;background:#cdeefb"></div>
<div class="bar" style="left:1187.5px;top:1486.50px;width:15.70px;height:7.90px;background:#a7dcf6"></div>
<div class="bar" style="left:1203.2px;top:1488.50px;width:16.00px;height:5.90px;background:#b3e3f8"></div>
<div class="bar" style="left:1219.2px;top:1489.50px;width:16.10px;height:4.90px;background:#b3e3f8"></div>
<div class="bar" style="left:1235.3px;top:1489.50px;width:16.20px;height:4.90px;background:#b3e3f8"></div>
<div class="a" style="left:566px;top:1496.40px;width:104px;height:30.50px;background:#76f2ee"></div>
<div class="a" style="left:795.5px;top:1496.40px;width:141.5px;height:30.50px;background:#33b9cc"></div>
<div class="a" style="left:939px;top:1496.40px;width:107px;height:30.50px;background:#b1e2f8"></div>
<div class="a" style="left:1048px;top:1496.40px;width:107px;height:30.50px;background:#a0d9f5"></div>
<div class="bar" style="left:1172px;top:1518.60px;width:15.50px;height:8.30px;background:#a7dcf6"></div>
<div class="bar" style="left:1187.5px;top:1520.20px;width:15.70px;height:6.70px;background:#a7dcf6"></div>
<div class="bar" style="left:1203.2px;top:1520.20px;width:16.00px;height:6.70px;background:#a7dcf6"></div>
<div class="bar" style="left:1219.2px;top:1520.20px;width:16.10px;height:6.70px;background:#a7dcf6"></div>
<div class="bar" style="left:1235.3px;top:1520.20px;width:16.20px;height:6.70px;background:#a7dcf6"></div>
<div class="a" style="left:566px;top:1528.90px;width:104px;height:30.50px;background:#b8f6f6"></div>
<div class="a" style="left:795.5px;top:1528.90px;width:141.5px;height:30.50px;background:#78f5ee"></div>
<div class="a" style="left:939px;top:1528.90px;width:107px;height:30.50px;background:#dcf2fd"></div>
<div class="a" style="left:1048px;top:1528.90px;width:107px;height:30.50px;background:#b1e2f8"></div>
<div class="bar" style="left:1172px;top:1556.20px;width:15.50px;height:3.20px;background:#cdeefb"></div>
<div class="bar" style="left:1187.5px;top:1557.80px;width:15.70px;height:1.60px;background:#cdeefb"></div>
<div class="bar" style="left:1203.2px;top:1557.80px;width:16.00px;height:1.60px;background:#cdeefb"></div>
<div class="bar" style="left:1219.2px;top:1556.20px;width:16.10px;height:3.20px;background:#cdeefb"></div>
<div class="bar" style="left:1235.3px;top:1558.40px;width:16.20px;height:1.00px;background:#cdeefb"></div>
<div class="a" style="left:566px;top:1561.40px;width:104px;height:30.50px;background:#f2f1f0"></div>
<div class="a" style="left:795.5px;top:1561.40px;width:141.5px;height:30.50px;background:#f2f1f0"></div>
<div class="a" style="left:939px;top:1561.40px;width:107px;height:30.50px;background:#f2f1f0"></div>
<div class="a" style="left:1048px;top:1561.40px;width:107px;height:30.50px;background:#f2f1f0"></div>
<div class="a" style="left:566px;top:1593.90px;width:104px;height:30.50px;background:#f2f1f0"></div>
<div class="a" style="left:795.5px;top:1593.90px;width:141.5px;height:30.50px;background:#f2f1f0"></div>
<div class="a" style="left:939px;top:1593.90px;width:107px;height:30.50px;background:#f2f1f0"></div>
<div class="a" style="left:1048px;top:1593.90px;width:107px;height:30.50px;background:#f2f1f0"></div>
<div class="a" style="left:566px;top:1626.40px;width:104px;height:30.50px;background:#f2f1f0"></div>
<div class="a" style="left:795.5px;top:1626.40px;width:141.5px;height:30.50px;background:#f2f1f0"></div>
<div class="a" style="left:939px;top:1626.40px;width:107px;height:30.50px;background:#f2f1f0"></div>
<div class="a" style="left:1048px;top:1626.40px;width:107px;height:30.50px;background:#f2f1f0"></div>
<div class="a" style="left:566px;top:1658.90px;width:104px;height:30.50px;background:#f2f1f0"></div>
<div class="a" style="left:795.5px;top:1658.90px;width:141.5px;height:30.50px;background:#f2f1f0"></div>
<div class="a" style="left:939px;top:1658.90px;width:107px;height:30.50px;background:#f2f1f0"></div>
<div class="a" style="left:1048px;top:1658.90px;width:107px;height:30.50px;background:#f2f1f0"></div>
<div class="a" style="left:566px;top:1691.40px;width:104px;height:30.50px;background:#f2f1f0"></div>
<div class="a" style="left:795.5px;top:1691.40px;width:141.5px;height:30.50px;background:#f2f1f0"></div>
<div class="a" style="left:939px;top:1691.40px;width:107px;height:30.50px;background:#f2f1f0"></div>
<div class="a" style="left:1048px;top:1691.40px;width:107px;height:30.50px;background:#f2f1f0"></div>
<div class="a" style="left:0;top:64.40px;width:1468px;height:2px;background:#e3e3e3"></div>
<div class="a" style="left:0;top:96.90px;width:1468px;height:2px;background:#e3e3e3"></div>
<div class="a" style="left:0;top:129.40px;width:1468px;height:2px;background:#e3e3e3"></div>
<div class="a" style="left:0;top:161.90px;width:1468px;height:2px;background:#e3e3e3"></div>
<div class="a" style="left:0;top:194.40px;width:1468px;height:2px;background:#e3e3e3"></div>
<div class="a" style="left:0;top:226.90px;width:1468px;height:2px;background:#e3e3e3"></div>
<div class="a" style="left:0;top:259.40px;width:1468px;height:2px;background:#e3e3e3"></div>
<div class="a" style="left:0;top:291.90px;width:1468px;height:2px;background:#e3e3e3"></div>
<div class="a" style="left:0;top:324.40px;width:1468px;height:2px;background:#e3e3e3"></div>
<div class="a" style="left:0;top:356.90px;width:1468px;height:2px;background:#e3e3e3"></div>
<div class="a" style="left:0;top:389.40px;width:1468px;height:2px;background:#e3e3e3"></div>
<div class="a" style="left:0;top:421.90px;width:1468px;height:2px;background:#e3e3e3"></div>
<div class="a" style="left:0;top:454.40px;width:1468px;height:2px;background:#e3e3e3"></div>
<div class="a" style="left:0;top:486.90px;width:1468px;height:2px;background:#e3e3e3"></div>
<div class="a" style="left:0;top:519.40px;width:1468px;height:2px;background:#e3e3e3"></div>
<div class="a" style="left:0;top:551.90px;width:1468px;height:2px;background:#e3e3e3"></div>
<div class="a" style="left:0;top:584.40px;width:1468px;height:2px;background:#e3e3e3"></div>
<div class="a" style="left:0;top:616.90px;width:1468px;height:2px;background:#e3e3e3"></div>
<div class="a" style="left:0;top:649.40px;width:1468px;height:2px;background:#e3e3e3"></div>
<div class="a" style="left:0;top:681.90px;width:1468px;height:2px;background:#e3e3e3"></div>
<div class="a" style="left:0;top:714.40px;width:1468px;height:2px;background:#e3e3e3"></div>
<div class="a" style="left:0;top:746.90px;width:1468px;height:2px;background:#e3e3e3"></div>
<div class="a" style="left:0;top:779.40px;width:1468px;height:2px;background:#e3e3e3"></div>
<div class="a" style="left:0;top:811.90px;width:1468px;height:2px;background:#e3e3e3"></div>
<div class="a" style="left:0;top:844.40px;width:1468px;height:2px;background:#e3e3e3"></div>
<div class="a" style="left:0;top:876.90px;width:1468px;height:2px;background:#e3e3e3"></div>
<div class="a" style="left:0;top:909.40px;width:1468px;height:2px;background:#e3e3e3"></div>
<div class="a" style="left:0;top:941.90px;width:1468px;height:2px;background:#e3e3e3"></div>
<div class="a" style="left:0;top:974.40px;width:1468px;height:2px;background:#e3e3e3"></div>
<div class="a" style="left:0;top:1006.90px;width:1468px;height:2px;background:#e3e3e3"></div>
<div class="a" style="left:0;top:1039.40px;width:1468px;height:2px;background:#e3e3e3"></div>
<div class="a" style="left:0;top:1071.90px;width:1468px;height:2px;background:#e3e3e3"></div>
<div class="a" style="left:0;top:1104.40px;width:1468px;height:2px;background:#e3e3e3"></div>
<div class="a" style="left:0;top:1136.90px;width:1468px;height:2px;background:#e3e3e3"></div>
<div class="a" style="left:0;top:1169.40px;width:1468px;height:2px;background:#e3e3e3"></div>
<div class="a" style="left:0;top:1201.90px;width:1468px;height:2px;background:#e3e3e3"></div>
<div class="a" style="left:0;top:1234.40px;width:1468px;height:2px;background:#e3e3e3"></div>
<div class="a" style="left:0;top:1266.90px;width:1468px;height:2px;background:#e3e3e3"></div>
<div class="a" style="left:0;top:1299.40px;width:1468px;height:2px;background:#e3e3e3"></div>
<div class="a" style="left:0;top:1331.90px;width:1468px;height:2px;background:#e3e3e3"></div>
<div class="a" style="left:0;top:1364.40px;width:1468px;height:2px;background:#e3e3e3"></div>
<div class="a" style="left:0;top:1396.90px;width:1468px;height:2px;background:#e3e3e3"></div>
<div class="a" style="left:0;top:1429.40px;width:1468px;height:2px;background:#e3e3e3"></div>
<div class="a" style="left:0;top:1461.90px;width:1468px;height:2px;background:#e3e3e3"></div>
<div class="a" style="left:0;top:1494.40px;width:1468px;height:2px;background:#e3e3e3"></div>
<div class="a" style="left:0;top:1526.90px;width:1468px;height:2px;background:#e3e3e3"></div>
<div class="a" style="left:0;top:1559.40px;width:1468px;height:2px;background:#e3e3e3"></div>
<div class="a" style="left:0;top:1591.90px;width:1468px;height:2px;background:#e3e3e3"></div>
<div class="a" style="left:0;top:1624.40px;width:1468px;height:2px;background:#e3e3e3"></div>
<div class="a" style="left:0;top:1656.90px;width:1468px;height:2px;background:#e3e3e3"></div>
<div class="a" style="left:0;top:1689.40px;width:1468px;height:2px;background:#e3e3e3"></div>
<div class="a" style="left:0;top:1721.90px;width:1468px;height:2px;background:#e3e3e3"></div>
<div class="a" style="left:476px;top:65px;width:2px;height:1657.9px;background:#ececec"></div>
<div class="a" style="left:564px;top:65px;width:2px;height:1657.9px;background:#ececec"></div>
<div class="a" style="left:670px;top:65px;width:1px;height:1657.9px;background:#e6e6e6"></div>
<div class="a" style="left:794px;top:65px;width:1.5px;height:1657.9px;background:#ececec"></div>
<div class="a" style="left:937px;top:65px;width:2px;height:1657.9px;background:#f2f2f2"></div>
<div class="a" style="left:1046px;top:65px;width:2px;height:1657.9px;background:#eef0f2"></div>
<div class="a" style="left:1155px;top:65px;width:2px;height:1657.9px;background:#eef0f2"></div>
<div class="a" style="left:1251.5px;top:65px;width:1.5px;height:1657.9px;background:#e6e6e6"></div>
<div class="t c" style="left:0;top:65.90px;width:70px">1</div>
<div class="t" style="left:76px;top:65.90px;font-size:18.9px">剩余流量：590.27 GB</div>
<div class="t c" style="left:478px;top:65.90px;width:86px">Trojan</div>
<div class="t c" style="left:566px;top:65.90px;width:104px">93ms</div>
<div class="t c" style="left:671px;top:65.90px;width:123px">7.5</div>
<div class="t c" style="left:795.5px;top:65.90px;width:141.5px">246ms</div>
<div class="t c" style="left:939px;top:65.90px;width:107px">28.57MB</div>
<div class="t c" style="left:1048px;top:65.90px;width:107px">56.68MB</div>
<div class="t c" style="left:1253px;top:65.90px;width:215px">FullCone</div>
<div class="t c" style="left:0;top:98.40px;width:70px">2</div>
<div class="t" style="left:76px;top:98.40px;font-size:18.9px">套餐到期：长期有效</div>
<div class="t c" style="left:478px;top:98.40px;width:86px">Trojan</div>
<div class="t c" style="left:566px;top:98.40px;width:104px">94ms</div>
<div class="t c" style="left:671px;top:98.40px;width:123px">7.3</div>
<div class="t c" style="left:795.5px;top:98.40px;width:141.5px">244ms</div>
<div class="t c" style="left:939px;top:98.40px;width:107px">71.06MB</div>
<div class="t c" style="left:1048px;top:98.40px;width:107px">74.66MB</div>
<div class="t c" style="left:1253px;top:98.40px;width:215px">FullCone</div>
<div class="t c" style="left:0;top:130.90px;width:70px">3</div>
<div class="a" style="left:0;top:146.40px;width:0;height:0"><svg width="18" height="19" viewBox="0 0 18 19" style="position:absolute;left:77px;top:-8px"><path d="M2 8.5L8 2.5L14.5 8.5V16.5H2z" fill="#fbe3a0"/><path d="M1 9L8 2L15.5 9" stroke="#5a7690" stroke-width="1.2" fill="none"/><path d="M2.2 3.2l.9-1.6 .9 1.8z" fill="#d9202a"/><path d="M7 6.5l2.2-2.2" stroke="#5a7690" stroke-width=".9"/><rect x="4" y="12.5" width="2" height="4" fill="#d9434a"/><circle cx="4.6" cy="9" r="1" fill="#38a8e0"/><circle cx="11.3" cy="9" r="1" fill="#38a8e0"/><circle cx="11.3" cy="13.3" r="1" fill="#38a8e0"/><rect x="0.5" y="16.3" width="16" height="1.5" fill="#2e9a3e"/></svg></div>
<div class="t" style="left:100.5px;top:130.90px;font-size:18.9px">官网：hongxingdl.club</div>
<div class="t c" style="left:478px;top:130.90px;width:86px">Trojan</div>
<div class="t c" style="left:566px;top:130.90px;width:104px">91ms</div>
<div class="t c" style="left:671px;top:130.90px;width:123px">8.4</div>
<div class="t c" style="left:795.5px;top:130.90px;width:141.5px">244ms</div>
<div class="t c" style="left:939px;top:130.90px;width:107px">75.69MB</div>
<div class="t c" style="left:1048px;top:130.90px;width:107px">85.98MB</div>
<div class="t c" style="left:1253px;top:130.90px;width:215px">FullCone</div>
<div class="t c" style="left:0;top:163.40px;width:70px">4</div>
<div class="a" style="left:0;top:178.90px;width:0;height:0"><svg width="19" height="19" viewBox="0 0 19 19" style="position:absolute;left:75.5px;top:-9.5px"><g fill="none" stroke="#888" stroke-width="1.6"><rect x="9.2" y="0.5" width="5.6" height="12" rx="2.8" transform="rotate(45 12 6.5)"/><rect x="4" y="6" width="5.6" height="12" rx="2.8" transform="rotate(45 6.8 12)"/></g></svg></div>
<div class="t" style="left:100.5px;top:163.40px;font-size:18.9px">节点异常请刷新订阅</div>
<div class="t c" style="left:478px;top:163.40px;width:86px">Trojan</div>
<div class="t c" style="left:566px;top:163.40px;width:104px">94ms</div>
<div class="t c" style="left:671px;top:163.40px;width:123px">9.5</div>
<div class="t c" style="left:795.5px;top:163.40px;width:141.5px">236ms</div>
<div class="t c" style="left:939px;top:163.40px;width:107px">67.70MB</div>
<div class="t c" style="left:1048px;top:163.40px;width:107px">74.62MB</div>
<div class="t c" style="left:1253px;top:163.40px;width:215px">FullCone</div>
<div class="t c" style="left:0;top:195.90px;width:70px">5</div>
<div class="a" style="left:0;top:211.40px;width:0;height:0"><svg width="19" height="19" viewBox="0 0 19 19" style="position:absolute;left:75.3px;top:-9.5px"><circle cx="9.5" cy="9.5" r="9.5" fill="#f6c324"/><ellipse cx="6.3" cy="7.2" rx="1.1" ry="1.5" fill="#3a2a10"/><ellipse cx="12.7" cy="7.2" rx="1.1" ry="1.5" fill="#3a2a10"/><path d="M5.3 11.5q4.2 3.4 8.4 0" stroke="#3a2a10" stroke-width="1.4" fill="none"/></svg></div>
<div class="t" style="left:94px;top:195.90px;font-size:18.9px">刷新失败请官网重置(需重登账号)</div>
<div class="t c" style="left:478px;top:195.90px;width:86px">Trojan</div>
<div class="t c" style="left:566px;top:195.90px;width:104px">99ms</div>
<div class="t c" style="left:671px;top:195.90px;width:123px">10.5</div>
<div class="t c" style="left:795.5px;top:195.90px;width:141.5px">235ms</div>
<div class="t c" style="left:939px;top:195.90px;width:107px">59.37MB</div>
<div class="t c" style="left:1048px;top:195.90px;width:107px">73.82MB</div>
<div class="t c" style="left:1253px;top:195.90px;width:215px">FullCone</div>
<div class="t c" style="left:0;top:228.40px;width:70px">6</div>
<svg class="a" width="19" height="13" viewBox="0 0 19 13" style="left:75.5px;top:237.90px"><rect width="19" height="13" rx="2" fill="#de2910"/><g fill="#fff" transform="translate(9.5 6.5)"><ellipse cx="0" cy="-2.3" rx="1.5" ry="2.2" transform="rotate(0)"/><ellipse cx="0" cy="-2.3" rx="1.5" ry="2.2" transform="rotate(72)"/><ellipse cx="0" cy="-2.3" rx="1.5" ry="2.2" transform="rotate(144)"/><ellipse cx="0" cy="-2.3" rx="1.5" ry="2.2" transform="rotate(216)"/><ellipse cx="0" cy="-2.3" rx="1.5" ry="2.2" transform="rotate(288)"/></g></svg>
<div class="t" style="left:99.5px;top:228.40px;font-size:18.9px">香港1</div>
<div class="t c" style="left:478px;top:228.40px;width:86px">Trojan</div>
<div class="t c" style="left:566px;top:228.40px;width:104px">96ms</div>
<div class="t c" style="left:671px;top:228.40px;width:123px">9.1</div>
<div class="t c" style="left:795.5px;top:228.40px;width:141.5px">241ms</div>
<div class="t c" style="left:939px;top:228.40px;width:107px">75.69MB</div>
<div class="t c" style="left:1048px;top:228.40px;width:107px">86.47MB</div>
<div class="t c" style="left:1253px;top:228.40px;width:215px">FullCone</div>
<div class="t c" style="left:0;top:260.90px;width:70px">7</div>
<svg class="a" width="19" height="13" viewBox="0 0 19 13" style="left:75.5px;top:270.40px"><rect width="19" height="13" rx="2" fill="#de2910"/><g fill="#fff" transform="translate(9.5 6.5)"><ellipse cx="0" cy="-2.3" rx="1.5" ry="2.2" transform="rotate(0)"/><ellipse cx="0" cy="-2.3" rx="1.5" ry="2.2" transform="rotate(72)"/><ellipse cx="0" cy="-2.3" rx="1.5" ry="2.2" transform="rotate(144)"/><ellipse cx="0" cy="-2.3" rx="1.5" ry="2.2" transform="rotate(216)"/><ellipse cx="0" cy="-2.3" rx="1.5" ry="2.2" transform="rotate(288)"/></g></svg>
<div class="t" style="left:99.5px;top:260.90px;font-size:18.9px">香港2</div>
<div class="t c" style="left:478px;top:260.90px;width:86px">Trojan</div>
<div class="t c" style="left:566px;top:260.90px;width:104px">99ms</div>
<div class="t c" style="left:671px;top:260.90px;width:123px">20.1</div>
<div class="t c" style="left:795.5px;top:260.90px;width:141.5px">229ms</div>
<div class="t c" style="left:939px;top:260.90px;width:107px">75.49MB</div>
<div class="t c" style="left:1048px;top:260.90px;width:107px">83.26MB</div>
<div class="t c" style="left:1253px;top:260.90px;width:215px">FullCone</div>
<div class="t c" style="left:0;top:293.40px;width:70px">8</div>
<svg class="a" width="19" height="13" viewBox="0 0 19 13" style="left:75.5px;top:302.90px"><rect width="19" height="13" rx="2" fill="#de2910"/><g fill="#fff" transform="translate(9.5 6.5)"><ellipse cx="0" cy="-2.3" rx="1.5" ry="2.2" transform="rotate(0)"/><ellipse cx="0" cy="-2.3" rx="1.5" ry="2.2" transform="rotate(72)"/><ellipse cx="0" cy="-2.3" rx="1.5" ry="2.2" transform="rotate(144)"/><ellipse cx="0" cy="-2.3" rx="1.5" ry="2.2" transform="rotate(216)"/><ellipse cx="0" cy="-2.3" rx="1.5" ry="2.2" transform="rotate(288)"/></g></svg>
<div class="t" style="left:99.5px;top:293.40px;font-size:18.9px">香港3</div>
<div class="t c" style="left:478px;top:293.40px;width:86px">Trojan</div>
<div class="t c" style="left:566px;top:293.40px;width:104px">98ms</div>
<div class="t c" style="left:671px;top:293.40px;width:123px">8.8</div>
<div class="t c" style="left:795.5px;top:293.40px;width:141.5px">241ms</div>
<div class="t c" style="left:939px;top:293.40px;width:107px">75.68MB</div>
<div class="t c" style="left:1048px;top:293.40px;width:107px">86.68MB</div>
<div class="t c" style="left:1253px;top:293.40px;width:215px">FullCone</div>
<div class="t c" style="left:0;top:325.90px;width:70px">9</div>
<svg class="a" width="19" height="13" viewBox="0 0 19 13" style="left:75.5px;top:335.40px"><rect width="19" height="13" rx="2" fill="#de2910"/><polygon fill="#ffde00" points="3.5,1.8 4.1,3.5 5.9,3.5 4.5,4.6 5,6.3 3.5,5.3 2,6.3 2.5,4.6 1.1,3.5 2.9,3.5"/><circle cx="7" cy="1.8" r=".5" fill="#ffde00"/><circle cx="8" cy="3.3" r=".5" fill="#ffde00"/><circle cx="8" cy="5.1" r=".5" fill="#ffde00"/><circle cx="7" cy="6.5" r=".5" fill="#ffde00"/></svg>
<div class="t" style="left:99.5px;top:325.90px;font-size:18.9px">台湾1</div>
<div class="t c" style="left:478px;top:325.90px;width:86px">Trojan</div>
<div class="t c" style="left:566px;top:325.90px;width:104px">102ms</div>
<div class="t c" style="left:671px;top:325.90px;width:123px">32.5</div>
<div class="t c" style="left:795.5px;top:325.90px;width:141.5px">272ms</div>
<div class="t c" style="left:939px;top:325.90px;width:107px">75.48MB</div>
<div class="t c" style="left:1048px;top:325.90px;width:107px">84.14MB</div>
<div class="t c" style="left:1253px;top:325.90px;width:215px">FullCone</div>
<div class="t c" style="left:0;top:358.40px;width:70px">10</div>
<svg class="a" width="19" height="13" viewBox="0 0 19 13" style="left:75.5px;top:367.90px"><rect width="19" height="13" rx="2" fill="#de2910"/><polygon fill="#ffde00" points="3.5,1.8 4.1,3.5 5.9,3.5 4.5,4.6 5,6.3 3.5,5.3 2,6.3 2.5,4.6 1.1,3.5 2.9,3.5"/><circle cx="7" cy="1.8" r=".5" fill="#ffde00"/><circle cx="8" cy="3.3" r=".5" fill="#ffde00"/><circle cx="8" cy="5.1" r=".5" fill="#ffde00"/><circle cx="7" cy="6.5" r=".5" fill="#ffde00"/></svg>
<div class="t" style="left:99.5px;top:358.40px;font-size:18.9px">台湾2</div>
<div class="t c" style="left:478px;top:358.40px;width:86px">Trojan</div>
<div class="t c" style="left:566px;top:358.40px;width:104px">106ms</div>
<div class="t c" style="left:671px;top:358.40px;width:123px">9.5</div>
<div class="t c" style="left:795.5px;top:358.40px;width:141.5px">276ms</div>
<div class="t c" style="left:939px;top:358.40px;width:107px">62.28MB</div>
<div class="t c" style="left:1048px;top:358.40px;width:107px">65.74MB</div>
<div class="t c" style="left:1253px;top:358.40px;width:215px">FullCone</div>
<div class="t c" style="left:0;top:390.90px;width:70px">11</div>
<svg class="a" width="19" height="13" viewBox="0 0 19 13" style="left:75.5px;top:400.40px"><rect width="19" height="13" rx="2" fill="#de2910"/><polygon fill="#ffde00" points="3.5,1.8 4.1,3.5 5.9,3.5 4.5,4.6 5,6.3 3.5,5.3 2,6.3 2.5,4.6 1.1,3.5 2.9,3.5"/><circle cx="7" cy="1.8" r=".5" fill="#ffde00"/><circle cx="8" cy="3.3" r=".5" fill="#ffde00"/><circle cx="8" cy="5.1" r=".5" fill="#ffde00"/><circle cx="7" cy="6.5" r=".5" fill="#ffde00"/></svg>
<div class="t" style="left:99.5px;top:390.90px;font-size:18.9px">台湾3</div>
<div class="t c" style="left:478px;top:390.90px;width:86px">Trojan</div>
<div class="t c" style="left:566px;top:390.90px;width:104px">101ms</div>
<div class="t c" style="left:671px;top:390.90px;width:123px">32.2</div>
<div class="t c" style="left:795.5px;top:390.90px;width:141.5px">270ms</div>
<div class="t c" style="left:939px;top:390.90px;width:107px">5.62MB</div>
<div class="t c" style="left:1048px;top:390.90px;width:107px">10.09MB</div>
<div class="t c" style="left:1253px;top:390.90px;width:215px">FullCone</div>
<div class="t c" style="left:0;top:423.40px;width:70px">12</div>
<svg class="a" width="19" height="13" viewBox="0 0 19 13" style="left:75.5px;top:432.90px"><rect width="19" height="13" rx="2" fill="#eeeeee"/><path d="M2 0h15a2 2 0 0 1 2 2v4.5H0V2a2 2 0 0 1 2-2z" fill="#e8202a"/><circle cx="3.9" cy="3.3" r="2.2" fill="#fff"/><circle cx="4.8" cy="3.3" r="2" fill="#e8202a"/><circle cx="6" cy="3.2" r=".9" fill="#fff" opacity=".8"/></svg>
<div class="t" style="left:99.5px;top:423.40px;font-size:18.9px">新加坡1</div>
<div class="t c" style="left:478px;top:423.40px;width:86px">Trojan</div>
<div class="t c" style="left:566px;top:423.40px;width:104px">131ms</div>
<div class="t c" style="left:671px;top:423.40px;width:123px">41.1</div>
<div class="t c" style="left:795.5px;top:423.40px;width:141.5px">349ms</div>
<div class="t c" style="left:939px;top:423.40px;width:107px">69.23MB</div>
<div class="t c" style="left:1048px;top:423.40px;width:107px">74.17MB</div>
<div class="t c" style="left:1253px;top:423.40px;width:215px">FullCone</div>
<div class="t c" style="left:0;top:455.90px;width:70px">13</div>
<svg class="a" width="19" height="13" viewBox="0 0 19 13" style="left:75.5px;top:465.40px"><rect width="19" height="13" rx="2" fill="#eeeeee"/><path d="M2 0h15a2 2 0 0 1 2 2v4.5H0V2a2 2 0 0 1 2-2z" fill="#e8202a"/><circle cx="3.9" cy="3.3" r="2.2" fill="#fff"/><circle cx="4.8" cy="3.3" r="2" fill="#e8202a"/><circle cx="6" cy="3.2" r=".9" fill="#fff" opacity=".8"/></svg>
<div class="t" style="left:99.5px;top:455.90px;font-size:18.9px">新加坡2</div>
<div class="t c" style="left:478px;top:455.90px;width:86px">Trojan</div>
<div class="t c" style="left:566px;top:455.90px;width:104px">126ms</div>
<div class="t c" style="left:671px;top:455.90px;width:123px">7.1</div>
<div class="t c" style="left:795.5px;top:455.90px;width:141.5px">335ms</div>
<div class="t c" style="left:939px;top:455.90px;width:107px">68.10MB</div>
<div class="t c" style="left:1048px;top:455.90px;width:107px">84.45MB</div>
<div class="t c" style="left:1253px;top:455.90px;width:215px">FullCone</div>
<div class="t c" style="left:0;top:488.40px;width:70px">14</div>
<svg class="a" width="19" height="13" viewBox="0 0 19 13" style="left:75.5px;top:497.90px"><rect width="19" height="13" rx="2" fill="#eeeeee"/><path d="M2 0h15a2 2 0 0 1 2 2v4.5H0V2a2 2 0 0 1 2-2z" fill="#e8202a"/><circle cx="3.9" cy="3.3" r="2.2" fill="#fff"/><circle cx="4.8" cy="3.3" r="2" fill="#e8202a"/><circle cx="6" cy="3.2" r=".9" fill="#fff" opacity=".8"/></svg>
<div class="t" style="left:99.5px;top:488.40px;font-size:18.9px">新加坡3</div>
<div class="t c" style="left:478px;top:488.40px;width:86px">Trojan</div>
<div class="t c" style="left:566px;top:488.40px;width:104px">128ms</div>
<div class="t c" style="left:671px;top:488.40px;width:123px">40.9</div>
<div class="t c" style="left:795.5px;top:488.40px;width:141.5px">344ms</div>
<div class="t c" style="left:939px;top:488.40px;width:107px">73.24MB</div>
<div class="t c" style="left:1048px;top:488.40px;width:107px">87.26MB</div>
<div class="t c" style="left:1253px;top:488.40px;width:215px">FullCone</div>
<div class="t c" style="left:0;top:520.90px;width:70px">15</div>
<svg class="a" width="19" height="13" viewBox="0 0 19 13" style="left:75.5px;top:530.40px"><rect width="19" height="13" rx="2" fill="#ececec"/><circle cx="9.5" cy="6.5" r="3.6" fill="#e0151b"/></svg>
<div class="t" style="left:99.5px;top:520.90px;font-size:18.9px">日本1</div>
<div class="t c" style="left:478px;top:520.90px;width:86px">Trojan</div>
<div class="t c" style="left:566px;top:520.90px;width:104px">141ms</div>
<div class="t c" style="left:671px;top:520.90px;width:123px">7</div>
<div class="t c" style="left:795.5px;top:520.90px;width:141.5px">386ms</div>
<div class="t c" style="left:939px;top:520.90px;width:107px">61.12MB</div>
<div class="t c" style="left:1048px;top:520.90px;width:107px">66.89MB</div>
<div class="t c" style="left:1253px;top:520.90px;width:215px">FullCone</div>
<div class="t c" style="left:0;top:553.40px;width:70px">16</div>
<svg class="a" width="19" height="13" viewBox="0 0 19 13" style="left:75.5px;top:562.90px"><rect width="19" height="13" rx="2" fill="#ececec"/><circle cx="9.5" cy="6.5" r="3.6" fill="#e0151b"/></svg>
<div class="t" style="left:99.5px;top:553.40px;font-size:18.9px">日本2</div>
<div class="t c" style="left:478px;top:553.40px;width:86px">Trojan</div>
<div class="t c" style="left:566px;top:553.40px;width:104px">141ms</div>
<div class="t c" style="left:671px;top:553.40px;width:123px">7.9</div>
<div class="t c" style="left:795.5px;top:553.40px;width:141.5px">393ms</div>
<div class="t c" style="left:939px;top:553.40px;width:107px">62.81MB</div>
<div class="t c" style="left:1048px;top:553.40px;width:107px">69.87MB</div>
<div class="t c" style="left:1253px;top:553.40px;width:215px">FullCone</div>
<div class="t c" style="left:0;top:585.90px;width:70px">17</div>
<svg class="a" width="19" height="13" viewBox="0 0 19 13" style="left:75.5px;top:595.40px"><rect width="19" height="13" rx="2" fill="#ececec"/><circle cx="9.5" cy="6.5" r="3.6" fill="#e0151b"/></svg>
<div class="t" style="left:99.5px;top:585.90px;font-size:18.9px">日本3</div>
<div class="t c" style="left:478px;top:585.90px;width:86px">Trojan</div>
<div class="t c" style="left:566px;top:585.90px;width:104px">146ms</div>
<div class="t c" style="left:671px;top:585.90px;width:123px">5.8</div>
<div class="t c" style="left:795.5px;top:585.90px;width:141.5px">391ms</div>
<div class="t c" style="left:939px;top:585.90px;width:107px">58.56MB</div>
<div class="t c" style="left:1048px;top:585.90px;width:107px">64.66MB</div>
<div class="t c" style="left:1253px;top:585.90px;width:215px">FullCone</div>
<div class="t c" style="left:0;top:618.40px;width:70px">18</div>
<svg class="a" width="19" height="13" viewBox="0 0 19 13" style="left:75.5px;top:627.90px"><rect width="19" height="13" rx="2" fill="#f2f2f2"/><rect y="0.00" width="19" height="1" fill="#e23a3a"/><rect y="2.00" width="19" height="1" fill="#e23a3a"/><rect y="4.00" width="19" height="1" fill="#e23a3a"/><rect y="6.00" width="19" height="1" fill="#e23a3a"/><rect y="8.00" width="19" height="1" fill="#e23a3a"/><rect y="10.00" width="19" height="1" fill="#e23a3a"/><rect y="12.00" width="19" height="1" fill="#e23a3a"/><rect x="0.3" y="0.3" width="8" height="6.5" fill="#3c3b6e"/><rect x="0.3" y="0.3" width="8" height="6.5" fill="#8a8ab0" opacity=".25"/></svg>
<div class="t" style="left:99.5px;top:618.40px;font-size:18.9px">美国1</div>
<div class="t c" style="left:478px;top:618.40px;width:86px">Trojan</div>
<div class="t c" style="left:566px;top:618.40px;width:104px">243ms</div>
<div class="t c" style="left:671px;top:618.40px;width:123px">7</div>
<div class="t c" style="left:795.5px;top:618.40px;width:141.5px">697ms</div>
<div class="t c" style="left:939px;top:618.40px;width:107px">57.95MB</div>
<div class="t c" style="left:1048px;top:618.40px;width:107px">76.13MB</div>
<div class="t c" style="left:1253px;top:618.40px;width:215px">FullCone</div>
<div class="t c" style="left:0;top:650.90px;width:70px">19</div>
<svg class="a" width="19" height="13" viewBox="0 0 19 13" style="left:75.5px;top:660.40px"><rect width="19" height="13" rx="2" fill="#f2f2f2"/><rect y="0.00" width="19" height="1" fill="#e23a3a"/><rect y="2.00" width="19" height="1" fill="#e23a3a"/><rect y="4.00" width="19" height="1" fill="#e23a3a"/><rect y="6.00" width="19" height="1" fill="#e23a3a"/><rect y="8.00" width="19" height="1" fill="#e23a3a"/><rect y="10.00" width="19" height="1" fill="#e23a3a"/><rect y="12.00" width="19" height="1" fill="#e23a3a"/><rect x="0.3" y="0.3" width="8" height="6.5" fill="#3c3b6e"/><rect x="0.3" y="0.3" width="8" height="6.5" fill="#8a8ab0" opacity=".25"/></svg>
<div class="t" style="left:99.5px;top:650.90px;font-size:18.9px">美国2</div>
<div class="t c" style="left:478px;top:650.90px;width:86px">Trojan</div>
<div class="t c" style="left:566px;top:650.90px;width:104px">250ms</div>
<div class="t c" style="left:671px;top:650.90px;width:123px">9.6</div>
<div class="t c" style="left:795.5px;top:650.90px;width:141.5px">706ms</div>
<div class="t c" style="left:939px;top:650.90px;width:107px">56.86MB</div>
<div class="t c" style="left:1048px;top:650.90px;width:107px">74.51MB</div>
<div class="t c" style="left:1253px;top:650.90px;width:215px">FullCone</div>
<div class="t c" style="left:0;top:683.40px;width:70px">20</div>
<svg class="a" width="19" height="13" viewBox="0 0 19 13" style="left:75.5px;top:692.90px"><rect width="19" height="13" rx="2" fill="#f2f2f2"/><rect y="0.00" width="19" height="1" fill="#e23a3a"/><rect y="2.00" width="19" height="1" fill="#e23a3a"/><rect y="4.00" width="19" height="1" fill="#e23a3a"/><rect y="6.00" width="19" height="1" fill="#e23a3a"/><rect y="8.00" width="19" height="1" fill="#e23a3a"/><rect y="10.00" width="19" height="1" fill="#e23a3a"/><rect y="12.00" width="19" height="1" fill="#e23a3a"/><rect x="0.3" y="0.3" width="8" height="6.5" fill="#3c3b6e"/><rect x="0.3" y="0.3" width="8" height="6.5" fill="#8a8ab0" opacity=".25"/></svg>
<div class="t" style="left:99.5px;top:683.40px;font-size:18.9px">美国3</div>
<div class="t c" style="left:478px;top:683.40px;width:86px">Trojan</div>
<div class="t c" style="left:566px;top:683.40px;width:104px">243ms</div>
<div class="t c" style="left:671px;top:683.40px;width:123px">7.1</div>
<div class="t c" style="left:795.5px;top:683.40px;width:141.5px">690ms</div>
<div class="t c" style="left:939px;top:683.40px;width:107px">64.81MB</div>
<div class="t c" style="left:1048px;top:683.40px;width:107px">83.70MB</div>
<div class="t c" style="left:1253px;top:683.40px;width:215px">FullCone</div>
<div class="t c" style="left:0;top:715.90px;width:70px">21</div>
<svg class="a" width="19" height="13" viewBox="0 0 19 13" style="left:75.5px;top:725.40px"><rect width="19" height="13" rx="2" fill="#f2f2f2"/><circle cx="9.5" cy="6.5" r="3" fill="#1c4fa8"/><path d="M6.5 6.5a3 3 0 0 1 6 0a1.5 1.5 0 0 1-3 0a1.5 1.5 0 0 0-3 0z" fill="#d9202a"/><g fill="#222"><rect x="3" y="1.6" width="2.6" height="1.2" transform="rotate(35 4.3 2.2)"/><rect x="13.4" y="1.6" width="2.6" height="1.2" transform="rotate(-35 14.7 2.2)"/><rect x="3" y="10.2" width="2.6" height="1.2" transform="rotate(-35 4.3 10.8)"/><rect x="13.4" y="10.2" width="2.6" height="1.2" transform="rotate(35 14.7 10.8)"/></g></svg>
<div class="t" style="left:99.5px;top:715.90px;font-size:18.9px">韩国</div>
<div class="t c" style="left:478px;top:715.90px;width:86px">Trojan</div>
<div class="t c" style="left:566px;top:715.90px;width:104px">180ms</div>
<div class="t c" style="left:671px;top:715.90px;width:123px">27.8</div>
<div class="t c" style="left:795.5px;top:715.90px;width:141.5px">460ms</div>
<div class="t c" style="left:939px;top:715.90px;width:107px">51.09MB</div>
<div class="t c" style="left:1048px;top:715.90px;width:107px">56.49MB</div>
<div class="t c" style="left:1253px;top:715.90px;width:215px">PortRestrictedCone</div>
<div class="t c" style="left:0;top:748.40px;width:70px">22</div>
<svg class="a" width="19" height="13" viewBox="0 0 19 13" style="left:75.5px;top:757.90px"><rect width="19" height="13" rx="2" fill="#f2f2f2"/><path d="M2 0h15a2 2 0 0 1 2 2v2.3H0V2a2 2 0 0 1 2-2z" fill="#f7a531"/><path d="M0 8.7h19V11a2 2 0 0 1-2 2H2a2 2 0 0 1-2-2z" fill="#1e8a3a"/><circle cx="9.5" cy="6.5" r="1.9" fill="none" stroke="#2b2f7f" stroke-width=".7"/></svg>
<div class="t" style="left:99.5px;top:748.40px;font-size:18.9px">印度-孟买</div>
<div class="t c" style="left:478px;top:748.40px;width:86px">Trojan</div>
<div class="t c" style="left:566px;top:748.40px;width:104px">185ms</div>
<div class="t c" style="left:671px;top:748.40px;width:123px">4.4</div>
<div class="t c" style="left:795.5px;top:748.40px;width:141.5px">526ms</div>
<div class="t c" style="left:939px;top:748.40px;width:107px">30.47MB</div>
<div class="t c" style="left:1048px;top:748.40px;width:107px">50.87MB</div>
<div class="t c" style="left:1253px;top:748.40px;width:215px">PortRestrictedCone</div>
<div class="t c" style="left:0;top:780.90px;width:70px">23</div>
<svg class="a" width="19" height="13" viewBox="0 0 19 13" style="left:75.5px;top:790.40px"><rect width="19" height="13" rx="2" fill="#f5c518"/><path d="M2 0h15a2 2 0 0 1 2 2v2.4H0V2a2 2 0 0 1 2-2z" fill="#1a1a1a"/><rect y="4.4" width="19" height="4.3" fill="#dd1f26"/></svg>
<div class="t" style="left:99.5px;top:780.90px;font-size:18.9px">德国</div>
<div class="t c" style="left:478px;top:780.90px;width:86px">Trojan</div>
<div class="t c" style="left:566px;top:780.90px;width:104px">351ms</div>
<div class="t c" style="left:671px;top:780.90px;width:123px">85.5</div>
<div class="t c" style="left:795.5px;top:780.90px;width:141.5px">1009ms</div>
<div class="t c" style="left:939px;top:780.90px;width:107px">7.64MB</div>
<div class="t c" style="left:1048px;top:780.90px;width:107px">11.76MB</div>
<div class="t c" style="left:1253px;top:780.90px;width:215px">Unknown</div>
<div class="t c" style="left:0;top:813.40px;width:70px">24</div>
<svg class="a" width="19" height="13" viewBox="0 0 19 13" style="left:75.5px;top:822.90px"><rect width="19" height="13" rx="2" fill="#ef2b2d"/><path d="M2 0h4.4v13H2a2 2 0 0 1-2-2V2a2 2 0 0 1 2-2z" fill="#283c8f"/><rect x="6.4" width="6.2" height="13" fill="#f2f2f2"/></svg>
<div class="t" style="left:99.5px;top:813.40px;font-size:18.9px">法国</div>
<div class="t c" style="left:478px;top:813.40px;width:86px">Trojan</div>
<div class="t c" style="left:566px;top:813.40px;width:104px">467ms</div>
<div class="t c" style="left:671px;top:813.40px;width:123px">213.2</div>
<div class="t c" style="left:795.5px;top:813.40px;width:141.5px">985ms</div>
<div class="t c" style="left:939px;top:813.40px;width:107px">8.24MB</div>
<div class="t c" style="left:1048px;top:813.40px;width:107px">11.91MB</div>
<div class="t c" style="left:1253px;top:813.40px;width:215px">PortRestrictedCone</div>
<div class="t c" style="left:0;top:845.90px;width:70px">25</div>
<svg class="a" width="19" height="13" viewBox="0 0 19 13" style="left:75.5px;top:855.40px"><rect width="19" height="13" rx="2" fill="#2b3a84"/><path d="M0 0L19 13M19 0L0 13" stroke="#fff" stroke-width="2.6"/><path d="M0 0L19 13M19 0L0 13" stroke="#d8202a" stroke-width="1"/><path d="M9.5 0v13M0 6.5h19" stroke="#fff" stroke-width="4"/><path d="M9.5 0v13M0 6.5h19" stroke="#d8202a" stroke-width="2.2"/></svg>
<div class="t" style="left:99.5px;top:845.90px;font-size:18.9px">英国</div>
<div class="t c" style="left:478px;top:845.90px;width:86px">Trojan</div>
<div class="t c" style="left:566px;top:845.90px;width:104px">299ms</div>
<div class="t c" style="left:671px;top:845.90px;width:123px">3.8</div>
<div class="t c" style="left:795.5px;top:845.90px;width:141.5px">855ms</div>
<div class="t c" style="left:939px;top:845.90px;width:107px">13.28MB</div>
<div class="t c" style="left:1048px;top:845.90px;width:107px">19.41MB</div>
<div class="t c" style="left:1253px;top:845.90px;width:215px">PortRestrictedCone</div>
<div class="t c" style="left:0;top:878.40px;width:70px">26</div>
<svg class="a" width="19" height="13" viewBox="0 0 19 13" style="left:75.5px;top:887.90px"><rect width="19" height="13" rx="2" fill="#2e3f8f"/><path d="M2 0h15a2 2 0 0 1 2 2v2.4H0V2a2 2 0 0 1 2-2z" fill="#d9252d"/><rect y="4.4" width="19" height="4.3" fill="#f2f2f2"/></svg>
<div class="t" style="left:99.5px;top:878.40px;font-size:18.9px">荷兰</div>
<div class="t c" style="left:478px;top:878.40px;width:86px">Trojan</div>
<div class="t c" style="left:566px;top:878.40px;width:104px">356ms</div>
<div class="t c" style="left:671px;top:878.40px;width:123px">5.9</div>
<div class="t c" style="left:795.5px;top:878.40px;width:141.5px">1026ms</div>
<div class="t c" style="left:939px;top:878.40px;width:107px">7.69MB</div>
<div class="t c" style="left:1048px;top:878.40px;width:107px">12.07MB</div>
<div class="t c" style="left:1253px;top:878.40px;width:215px">PortRestrictedCone</div>
<div class="t c" style="left:0;top:910.90px;width:70px">27</div>
<svg class="a" width="19" height="13" viewBox="0 0 19 13" style="left:75.5px;top:920.40px"><rect width="19" height="13" rx="2" fill="#df2b2f"/><path d="M2 0h4.4v13H2a2 2 0 0 1-2-2V2a2 2 0 0 1 2-2z" fill="#1f8a45"/><rect x="6.4" width="6.2" height="13" fill="#f2f2f2"/></svg>
<div class="t" style="left:99.5px;top:910.90px;font-size:18.9px">意大利</div>
<div class="t c" style="left:478px;top:910.90px;width:86px">Trojan</div>
<div class="t c" style="left:566px;top:910.90px;width:104px">437ms</div>
<div class="t c" style="left:671px;top:910.90px;width:123px">6.9</div>
<div class="t c" style="left:795.5px;top:910.90px;width:141.5px">1264ms</div>
<div class="t c" style="left:939px;top:910.90px;width:107px">4.67MB</div>
<div class="t c" style="left:1048px;top:910.90px;width:107px">9.11MB</div>
<div class="t c" style="left:1253px;top:910.90px;width:215px">PortRestrictedCone</div>
<div class="t c" style="left:0;top:943.40px;width:70px">28</div>
<svg class="a" width="19" height="13" viewBox="0 0 19 13" style="left:75.5px;top:952.90px"><rect width="19" height="13" rx="2" fill="#f2f2f2"/><path d="M2 0h15a2 2 0 0 1 2 2v2.3H0V2a2 2 0 0 1 2-2z" fill="#f7a531"/><path d="M0 8.7h19V11a2 2 0 0 1-2 2H2a2 2 0 0 1-2-2z" fill="#1e8a3a"/><circle cx="9.5" cy="6.5" r="1.9" fill="none" stroke="#2b2f7f" stroke-width=".7"/></svg>
<div class="t" style="left:99.5px;top:943.40px;font-size:18.9px">印度-西部</div>
<div class="t c" style="left:478px;top:943.40px;width:86px">Trojan</div>
<div class="t c" style="left:566px;top:943.40px;width:104px">189ms</div>
<div class="t c" style="left:671px;top:943.40px;width:123px">8</div>
<div class="t c" style="left:795.5px;top:943.40px;width:141.5px">537ms</div>
<div class="t c" style="left:939px;top:943.40px;width:107px">27.94MB</div>
<div class="t c" style="left:1048px;top:943.40px;width:107px">43.01MB</div>
<div class="t c" style="left:1253px;top:943.40px;width:215px">PortRestrictedCone</div>
<div class="t c" style="left:0;top:975.90px;width:70px">29</div>
<svg class="a" width="19" height="13" viewBox="0 0 19 13" style="left:75.5px;top:985.40px"><rect width="19" height="13" rx="2" fill="#de2028"/><path d="M2 0h15a2 2 0 0 1 2 2v4.5H0V2a2 2 0 0 1 2-2z" fill="#eeeeee"/><path d="M2 0h4.5v6.5H0V2a2 2 0 0 1 2-2z" fill="#1f3f8f"/><circle cx="3.2" cy="3.2" r="1" fill="#fff"/></svg>
<div class="t" style="left:99.5px;top:975.90px;font-size:18.9px">智利</div>
<div class="t c" style="left:478px;top:975.90px;width:86px">Trojan</div>
<div class="t c" style="left:566px;top:975.90px;width:104px">441ms</div>
<div class="t c" style="left:671px;top:975.90px;width:123px">6.5</div>
<div class="t c" style="left:795.5px;top:975.90px;width:141.5px">1283ms</div>
<div class="t c" style="left:939px;top:975.90px;width:107px">3.86MB</div>
<div class="t c" style="left:1048px;top:975.90px;width:107px">8.27MB</div>
<div class="t c" style="left:1253px;top:975.90px;width:215px">PortRestrictedCone</div>
<div class="t c" style="left:0;top:1008.40px;width:70px">30</div>
<svg class="a" width="19" height="13" viewBox="0 0 19 13" style="left:75.5px;top:1017.90px"><rect width="19" height="13" rx="2" fill="#1f9a3e"/><polygon points="9.5,1.3 17.5,6.5 9.5,11.7 1.5,6.5" fill="#f8d316"/><circle cx="9.5" cy="6.5" r="3" fill="#263b8b"/><path d="M6.6 5.8q3-1 5.8 1" stroke="#fff" stroke-width=".6" fill="none"/></svg>
<div class="t" style="left:99.5px;top:1008.40px;font-size:18.9px">巴西</div>
<div class="t c" style="left:478px;top:1008.40px;width:86px">Trojan</div>
<div class="t c" style="left:566px;top:1008.40px;width:104px">415ms</div>
<div class="t c" style="left:671px;top:1008.40px;width:123px">195.6</div>
<div class="t c" style="left:795.5px;top:1008.40px;width:141.5px">1223ms</div>
<div class="t c" style="left:939px;top:1008.40px;width:107px">4.29MB</div>
<div class="t c" style="left:1048px;top:1008.40px;width:107px">9.37MB</div>
<div class="t c" style="left:1253px;top:1008.40px;width:215px">PortRestrictedCone</div>
<div class="t c" style="left:0;top:1040.90px;width:70px">31</div>
<svg class="a" width="19" height="13" viewBox="0 0 19 13" style="left:75.5px;top:1050.40px"><rect width="19" height="13" rx="2" fill="#d9202a"/><rect y="3.2" width="19" height="6.6" fill="#f7c20e"/><rect x="4" y="4.4" width="2.2" height="3.4" fill="#c0392b" opacity=".7"/></svg>
<div class="t" style="left:99.5px;top:1040.90px;font-size:18.9px">西班牙</div>
<div class="t c" style="left:478px;top:1040.90px;width:86px">Trojan</div>
<div class="t c" style="left:566px;top:1040.90px;width:104px">372ms</div>
<div class="t c" style="left:671px;top:1040.90px;width:123px">2.5</div>
<div class="t c" style="left:795.5px;top:1040.90px;width:141.5px">1079ms</div>
<div class="t c" style="left:939px;top:1040.90px;width:107px">5.00MB</div>
<div class="t c" style="left:1048px;top:1040.90px;width:107px">10.30MB</div>
<div class="t c" style="left:1253px;top:1040.90px;width:215px">PortRestrictedCone</div>
<div class="t c" style="left:0;top:1073.40px;width:70px">32</div>
<svg class="a" width="19" height="13" viewBox="0 0 19 13" style="left:75.5px;top:1082.90px"><rect x="3" width="13" height="13" rx="2" fill="#e0202a"/><rect x="8.3" y="3" width="2.4" height="7" fill="#fff"/><rect x="6" y="5.3" width="7" height="2.4" fill="#fff"/></svg>
<div class="t" style="left:99.5px;top:1073.40px;font-size:18.9px">瑞士</div>
<div class="t c" style="left:478px;top:1073.40px;width:86px">Trojan</div>
<div class="t c" style="left:566px;top:1073.40px;width:104px">357ms</div>
<div class="t c" style="left:671px;top:1073.40px;width:123px">112.3</div>
<div class="t c" style="left:795.5px;top:1073.40px;width:141.5px">1033ms</div>
<div class="t c" style="left:939px;top:1073.40px;width:107px">5.37MB</div>
<div class="t c" style="left:1048px;top:1073.40px;width:107px">11.58MB</div>
<div class="t c" style="left:1253px;top:1073.40px;width:215px">PortRestrictedCone</div>
<div class="t c" style="left:0;top:1105.90px;width:70px">33</div>
<svg class="a" width="19" height="13" viewBox="0 0 19 13" style="left:75.5px;top:1115.40px"><rect width="19" height="13" rx="2" fill="#2e6f8e"/><rect x="5.5" width="2.6" height="13" fill="#f6c514"/><rect y="5.2" width="19" height="2.6" fill="#f6c514"/></svg>
<div class="t" style="left:99.5px;top:1105.90px;font-size:18.9px">瑞典</div>
<div class="t c" style="left:478px;top:1105.90px;width:86px">Trojan</div>
<div class="t c" style="left:566px;top:1105.90px;width:104px">379ms</div>
<div class="t c" style="left:671px;top:1105.90px;width:123px">13.3</div>
<div class="t c" style="left:795.5px;top:1105.90px;width:141.5px">1073ms</div>
<div class="t c" style="left:939px;top:1105.90px;width:107px">7.07MB</div>
<div class="t c" style="left:1048px;top:1105.90px;width:107px">11.52MB</div>
<div class="t c" style="left:1253px;top:1105.90px;width:215px">PortRestrictedCone</div>
<div class="t c" style="left:0;top:1138.40px;width:70px">34</div>
<svg class="a" width="19" height="13" viewBox="0 0 19 13" style="left:75.5px;top:1147.90px"><rect width="19" height="13" rx="2" fill="#d9252d"/><path d="M2 0h4.4v13H2a2 2 0 0 1-2-2V2a2 2 0 0 1 2-2z" fill="#1a7a46"/><rect x="6.4" width="6.2" height="13" fill="#f2f2f2"/><circle cx="9.5" cy="6.5" r="1.6" fill="#9a6b3a" opacity=".8"/></svg>
<div class="t" style="left:99.5px;top:1138.40px;font-size:18.9px">墨西哥</div>
<div class="t c" style="left:478px;top:1138.40px;width:86px">Trojan</div>
<div class="t c" style="left:566px;top:1138.40px;width:104px">309ms</div>
<div class="t c" style="left:671px;top:1138.40px;width:123px">3.5</div>
<div class="t c" style="left:795.5px;top:1138.40px;width:141.5px">897ms</div>
<div class="t c" style="left:939px;top:1138.40px;width:107px">6.69MB</div>
<div class="t c" style="left:1048px;top:1138.40px;width:107px">14.17MB</div>
<div class="t c" style="left:1253px;top:1138.40px;width:215px">PortRestrictedCone</div>
<div class="t c" style="left:0;top:1170.90px;width:70px">35</div>
<svg class="a" width="19" height="13" viewBox="0 0 19 13" style="left:75.5px;top:1180.40px"><rect width="19" height="13" rx="2" fill="#e0202a"/><rect x="4.6" width="9.8" height="13" fill="#f2f2f2"/><path d="M9.5 2.5l.9 1.6 1-.5-.4 2.3 1.4-1 .3.9 1.2-.2-.6 1.5.6.4-2.6 2h-1.4v1.6h-.8V9.5H7.7l-2.6-2 .6-.4-.6-1.5 1.2.2.3-.9 1.4 1-.4-2.3 1 .5z" fill="#e0202a"/></svg>
<div class="t" style="left:99.5px;top:1170.90px;font-size:18.9px">加拿大</div>
<div class="t c" style="left:478px;top:1170.90px;width:86px">Trojan</div>
<div class="t c" style="left:566px;top:1170.90px;width:104px">349ms</div>
<div class="t c" style="left:671px;top:1170.90px;width:123px">4.4</div>
<div class="t c" style="left:795.5px;top:1170.90px;width:141.5px">1008ms</div>
<div class="t c" style="left:939px;top:1170.90px;width:107px">7.95MB</div>
<div class="t c" style="left:1048px;top:1170.90px;width:107px">11.86MB</div>
<div class="t c" style="left:1253px;top:1170.90px;width:215px">PortRestrictedCone</div>
<div class="t c" style="left:0;top:1203.40px;width:70px">36</div>
<svg class="a" width="19" height="13" viewBox="0 0 19 13" style="left:75.5px;top:1212.90px"><rect width="19" height="13" rx="2" fill="#233b8e"/><path d="M0 0L9 6.5M9 0L0 6.5" stroke="#fff" stroke-width="1.4"/><path d="M0 0L9 6.5M9 0L0 6.5" stroke="#d8202a" stroke-width=".6"/><path d="M4.5 0v6.5M0 3.25h9" stroke="#fff" stroke-width="2"/><path d="M4.5 0v6.5M0 3.25h9" stroke="#d8202a" stroke-width="1"/><g fill="#fff"><circle cx="4.5" cy="10" r="1.2"/><circle cx="14" cy="3" r=".8"/><circle cx="12" cy="6.5" r=".8"/><circle cx="16" cy="6" r=".8"/><circle cx="14" cy="10.5" r=".9"/></g></svg>
<div class="t" style="left:99.5px;top:1203.40px;font-size:18.9px">澳大利亚</div>
<div class="t c" style="left:478px;top:1203.40px;width:86px">Trojan</div>
<div class="t c" style="left:566px;top:1203.40px;width:104px">225ms</div>
<div class="t c" style="left:671px;top:1203.40px;width:123px">20.5</div>
<div class="t c" style="left:795.5px;top:1203.40px;width:141.5px">842ms</div>
<div class="t c" style="left:939px;top:1203.40px;width:107px">10.95MB</div>
<div class="t c" style="left:1048px;top:1203.40px;width:107px">14.71MB</div>
<div class="t c" style="left:1253px;top:1203.40px;width:215px">PortRestrictedCone</div>
<div class="t c" style="left:0;top:1235.90px;width:70px">37</div>
<svg class="a" width="19" height="13" viewBox="0 0 19 13" style="left:75.5px;top:1245.40px"><rect width="19" height="13" rx="2" fill="#1a1a1a"/><path d="M2 0h15a2 2 0 0 1 2 2v2.4H0V2a2 2 0 0 1 2-2z" fill="#1d8a45"/><rect y="4.4" width="19" height="4.3" fill="#f2f2f2"/><path d="M2 0h3.6v13H2a2 2 0 0 1-2-2V2a2 2 0 0 1 2-2z" fill="#df2028"/></svg>
<div class="t" style="left:99.5px;top:1235.90px;font-size:18.9px">迪拜</div>
<div class="t c" style="left:478px;top:1235.90px;width:86px">Trojan</div>
<div class="t c" style="left:566px;top:1235.90px;width:104px">221ms</div>
<div class="t c" style="left:671px;top:1235.90px;width:123px">4.8</div>
<div class="t c" style="left:795.5px;top:1235.90px;width:141.5px">631ms</div>
<div class="t c" style="left:939px;top:1235.90px;width:107px">14.82MB</div>
<div class="t c" style="left:1048px;top:1235.90px;width:107px">20.41MB</div>
<div class="t c" style="left:1253px;top:1235.90px;width:215px">PortRestrictedCone</div>
<div class="t c" style="left:0;top:1268.40px;width:70px">38</div>
<svg class="a" width="19" height="13" viewBox="0 0 19 13" style="left:75.5px;top:1277.90px"><rect width="19" height="13" rx="2" fill="#1e8a44"/><path d="M2 0h15a2 2 0 0 1 2 2v2.5H7.5z" fill="#df3a2b"/><path d="M7.5 8.5H19V11a2 2 0 0 1-2 2H2z" fill="#2b3f92"/><path d="M0 1l6.5 5.5L0 12" stroke="#f5c518" stroke-width="1.2" fill="#1a1a1a"/><path d="M0 0.2L7.3 5.2H19M0 12.8L7.3 7.8H19" stroke="#f2f2f2" stroke-width=".8" fill="none"/></svg>
<div class="t" style="left:99.5px;top:1268.40px;font-size:18.9px">南非</div>
<div class="t c" style="left:478px;top:1268.40px;width:86px">Trojan</div>
<div class="t c" style="left:566px;top:1268.40px;width:104px">449ms</div>
<div class="t c" style="left:671px;top:1268.40px;width:123px">3.3</div>
<div class="t c" style="left:795.5px;top:1268.40px;width:141.5px">1330ms</div>
<div class="t c" style="left:939px;top:1268.40px;width:107px">3.96MB</div>
<div class="t c" style="left:1048px;top:1268.40px;width:107px">8.90MB</div>
<div class="t c" style="left:1253px;top:1268.40px;width:215px">PortRestrictedCone</div>
<div class="t c" style="left:0;top:1300.90px;width:70px">39</div>
<svg class="a" width="19" height="13" viewBox="0 0 19 13" style="left:75.5px;top:1310.40px"><rect width="19" height="13" rx="2" fill="#1a7a3d"/><rect x="5" y="3.5" width="9" height="2.6" fill="#fff" opacity=".75"/><rect x="6" y="8" width="7" height=".8" fill="#fff" opacity=".8"/></svg>
<div class="t" style="left:99.5px;top:1300.90px;font-size:18.9px">沙特阿拉伯</div>
<div class="t c" style="left:478px;top:1300.90px;width:86px">Trojan</div>
<div class="t c" style="left:566px;top:1300.90px;width:104px">358ms</div>
<div class="t c" style="left:671px;top:1300.90px;width:123px">20.6</div>
<div class="t c" style="left:795.5px;top:1300.90px;width:141.5px">1036ms</div>
<div class="t c" style="left:939px;top:1300.90px;width:107px">13.07MB</div>
<div class="t c" style="left:1048px;top:1300.90px;width:107px">19.87MB</div>
<div class="t c" style="left:1253px;top:1300.90px;width:215px">PortRestrictedCone</div>
<div class="t c" style="left:0;top:1333.40px;width:70px">40</div>
<svg class="a" width="19" height="13" viewBox="0 0 19 13" style="left:75.5px;top:1342.90px"><rect width="19" height="13" rx="2" fill="#d9202a"/><path d="M2 0h15a2 2 0 0 1 2 2v4.5H0V2a2 2 0 0 1 2-2z" fill="#f8c81c"/><rect y="6.5" width="19" height="3.3" fill="#27398d"/></svg>
<div class="t" style="left:99.5px;top:1333.40px;font-size:18.9px">哥伦比亚</div>
<div class="t c" style="left:478px;top:1333.40px;width:86px">Trojan</div>
<div class="t c" style="left:566px;top:1333.40px;width:104px">370ms</div>
<div class="t c" style="left:671px;top:1333.40px;width:123px">2.5</div>
<div class="t c" style="left:795.5px;top:1333.40px;width:141.5px">1075ms</div>
<div class="t c" style="left:939px;top:1333.40px;width:107px">1.62MB</div>
<div class="t c" style="left:1048px;top:1333.40px;width:107px">6.19MB</div>
<div class="t c" style="left:1253px;top:1333.40px;width:215px">PortRestrictedCone</div>
<div class="t c" style="left:0;top:1365.90px;width:70px">41</div>
<svg class="a" width="19" height="13" viewBox="0 0 19 13" style="left:75.5px;top:1375.40px"><rect width="19" height="13" rx="2" fill="#f2f2f2"/><rect y="1.6" width="19" height="1.6" fill="#2a3f9a"/><rect y="9.8" width="19" height="1.6" fill="#2a3f9a"/><circle cx="9.5" cy="6.5" r="1.8" fill="none" stroke="#2a3f9a" stroke-width=".7"/></svg>
<div class="t" style="left:99.5px;top:1365.90px;font-size:18.9px">以色列</div>
<div class="t c" style="left:478px;top:1365.90px;width:86px">Trojan</div>
<div class="t c" style="left:566px;top:1365.90px;width:104px">0ms</div>
<div class="t c" style="left:671px;top:1365.90px;width:123px">0</div>
<div class="t c" style="left:795.5px;top:1365.90px;width:141.5px">0ms</div>
<div class="t c" style="left:939px;top:1365.90px;width:107px">4.98MB</div>
<div class="t c" style="left:1048px;top:1365.90px;width:107px">9.91MB</div>
<div class="t c" style="left:1253px;top:1365.90px;width:215px">PortRestrictedCone</div>
<div class="t c" style="left:0;top:1398.40px;width:70px">42</div>
<svg class="a" width="19" height="13" viewBox="0 0 19 13" style="left:75.5px;top:1407.90px"><rect width="19" height="13" rx="2" fill="#da251d"/><polygon fill="#ffde00" points="9.5,2.8 10.4,5.4 13.1,5.4 10.9,7 11.7,9.6 9.5,8 7.3,9.6 8.1,7 5.9,5.4 8.6,5.4"/></svg>
<div class="t" style="left:99.5px;top:1398.40px;font-size:18.9px">越南</div>
<div class="t c" style="left:478px;top:1398.40px;width:86px">Trojan</div>
<div class="t c" style="left:566px;top:1398.40px;width:104px">170ms</div>
<div class="t c" style="left:671px;top:1398.40px;width:123px">2.2</div>
<div class="t c" style="left:795.5px;top:1398.40px;width:141.5px">449ms</div>
<div class="t c" style="left:939px;top:1398.40px;width:107px">11.52MB</div>
<div class="t c" style="left:1048px;top:1398.40px;width:107px">11.98MB</div>
<div class="t c" style="left:1253px;top:1398.40px;width:215px">FullCone</div>
<div class="t c" style="left:0;top:1430.90px;width:70px">43</div>
<svg class="a" width="19" height="13" viewBox="0 0 19 13" style="left:75.5px;top:1440.40px"><rect width="19" height="13" rx="2" fill="#df2630"/><rect y="2.2" width="19" height="8.6" fill="#f2f2f2"/><rect y="4.3" width="19" height="4.4" fill="#222a5a"/></svg>
<div class="t" style="left:99.5px;top:1430.90px;font-size:18.9px">泰国</div>
<div class="t c" style="left:478px;top:1430.90px;width:86px">Trojan</div>
<div class="t c" style="left:566px;top:1430.90px;width:104px">231ms</div>
<div class="t c" style="left:671px;top:1430.90px;width:123px">47.2</div>
<div class="t c" style="left:795.5px;top:1430.90px;width:141.5px">785ms</div>
<div class="t c" style="left:939px;top:1430.90px;width:107px">2.28MB</div>
<div class="t c" style="left:1048px;top:1430.90px;width:107px">4.05MB</div>
<div class="t c" style="left:1253px;top:1430.90px;width:215px">FullCone</div>
<div class="t c" style="left:0;top:1463.40px;width:70px">44</div>
<svg class="a" width="19" height="13" viewBox="0 0 19 13" style="left:75.5px;top:1472.90px"><rect width="19" height="13" rx="2" fill="#f2f2f2"/><rect y="0.00" width="19" height="1" fill="#d8343a"/><rect y="2.00" width="19" height="1" fill="#d8343a"/><rect y="4.00" width="19" height="1" fill="#d8343a"/><rect y="6.00" width="19" height="1" fill="#d8343a"/><rect y="8.00" width="19" height="1" fill="#d8343a"/><rect y="10.00" width="19" height="1" fill="#d8343a"/><rect y="12.00" width="19" height="1" fill="#d8343a"/><rect x="0" y="0" width="9.5" height="7" fill="#1c2c6e"/><circle cx="3.5" cy="3.5" r="2.3" fill="#f6c514"/><circle cx="4.3" cy="3.5" r="1.9" fill="#1c2c6e"/><circle cx="6.8" cy="3.5" r="1" fill="#f6c514"/></svg>
<div class="t" style="left:99.5px;top:1463.40px;font-size:18.9px">马来西亚</div>
<div class="t c" style="left:478px;top:1463.40px;width:86px">Trojan</div>
<div class="t c" style="left:566px;top:1463.40px;width:104px">142ms</div>
<div class="t c" style="left:671px;top:1463.40px;width:123px">5.2</div>
<div class="t c" style="left:795.5px;top:1463.40px;width:141.5px">390ms</div>
<div class="t c" style="left:939px;top:1463.40px;width:107px">7.90MB</div>
<div class="t c" style="left:1048px;top:1463.40px;width:107px">13.29MB</div>
<div class="t c" style="left:1253px;top:1463.40px;width:215px">FullCone</div>
<div class="t c" style="left:0;top:1495.90px;width:70px">45</div>
<svg class="a" width="19" height="13" viewBox="0 0 19 13" style="left:75.5px;top:1505.40px"><rect width="19" height="13" rx="2" fill="#d9252d"/><path d="M2 0h15a2 2 0 0 1 2 2v2.4H0V2a2 2 0 0 1 2-2z" fill="#f2f2f2"/><rect y="4.4" width="19" height="4.3" fill="#2740a0"/></svg>
<div class="t" style="left:99.5px;top:1495.90px;font-size:18.9px">莫斯科</div>
<div class="t c" style="left:478px;top:1495.90px;width:86px">Trojan</div>
<div class="t c" style="left:566px;top:1495.90px;width:104px">259ms</div>
<div class="t c" style="left:671px;top:1495.90px;width:123px">4.8</div>
<div class="t c" style="left:795.5px;top:1495.90px;width:141.5px">720ms</div>
<div class="t c" style="left:939px;top:1495.90px;width:107px">10.62MB</div>
<div class="t c" style="left:1048px;top:1495.90px;width:107px">14.50MB</div>
<div class="t c" style="left:1253px;top:1495.90px;width:215px">FullCone</div>
<div class="t c" style="left:0;top:1528.40px;width:70px">46</div>
<svg class="a" width="19" height="13" viewBox="0 0 19 13" style="left:75.5px;top:1537.90px"><rect width="19" height="13" rx="2" fill="#d9202a"/><path d="M2 0h15a2 2 0 0 1 2 2v4.5H0V2a2 2 0 0 1 2-2z" fill="#2c3a92"/><path d="M0 1.5 Q0 0 1.5 0 L10 6.5 L1.5 13 Q0 13 0 11.5z" fill="#f2f2f2"/><circle cx="3.3" cy="6.5" r="1.5" fill="#f6c514"/></svg>
<div class="t" style="left:99.5px;top:1528.40px;font-size:18.9px">菲律宾</div>
<div class="t c" style="left:478px;top:1528.40px;width:86px">Trojan</div>
<div class="t c" style="left:566px;top:1528.40px;width:104px">130ms</div>
<div class="t c" style="left:671px;top:1528.40px;width:123px">2.4</div>
<div class="t c" style="left:795.5px;top:1528.40px;width:141.5px">338ms</div>
<div class="t c" style="left:939px;top:1528.40px;width:107px">4.67MB</div>
<div class="t c" style="left:1048px;top:1528.40px;width:107px">6.77MB</div>
<div class="t c" style="left:1253px;top:1528.40px;width:215px">FullCone</div>
<div class="t c" style="left:0;top:1560.90px;width:70px">47</div>
<svg class="a" width="19" height="13" viewBox="0 0 19 13" style="left:75.5px;top:1570.40px"><rect width="19" height="13" rx="2" fill="#de2910"/><g fill="#fff" transform="translate(9.5 6.5)"><ellipse cx="0" cy="-2.3" rx="1.5" ry="2.2" transform="rotate(0)"/><ellipse cx="0" cy="-2.3" rx="1.5" ry="2.2" transform="rotate(72)"/><ellipse cx="0" cy="-2.3" rx="1.5" ry="2.2" transform="rotate(144)"/><ellipse cx="0" cy="-2.3" rx="1.5" ry="2.2" transform="rotate(216)"/><ellipse cx="0" cy="-2.3" rx="1.5" ry="2.2" transform="rotate(288)"/></g></svg>
<div class="t" style="left:94px;top:1560.90px;font-size:18.9px">香港 IPV6</div>
<div class="t c" style="left:478px;top:1560.90px;width:86px">Trojan</div>
<div class="t c" style="left:566px;top:1560.90px;width:104px">0ms</div>
<div class="t c" style="left:671px;top:1560.90px;width:123px">0</div>
<div class="t c" style="left:795.5px;top:1560.90px;width:141.5px">0ms</div>
<div class="t c" style="left:939px;top:1560.90px;width:107px">0B</div>
<div class="t c" style="left:1048px;top:1560.90px;width:107px">0B</div>
<div class="t c" style="left:1253px;top:1560.90px;width:215px">Unknown</div>
<div class="t c" style="left:0;top:1593.40px;width:70px">48</div>
<svg class="a" width="19" height="13" viewBox="0 0 19 13" style="left:75.5px;top:1602.90px"><rect width="19" height="13" rx="2" fill="#de2910"/><polygon fill="#ffde00" points="3.5,1.8 4.1,3.5 5.9,3.5 4.5,4.6 5,6.3 3.5,5.3 2,6.3 2.5,4.6 1.1,3.5 2.9,3.5"/><circle cx="7" cy="1.8" r=".5" fill="#ffde00"/><circle cx="8" cy="3.3" r=".5" fill="#ffde00"/><circle cx="8" cy="5.1" r=".5" fill="#ffde00"/><circle cx="7" cy="6.5" r=".5" fill="#ffde00"/></svg>
<div class="t" style="left:99.5px;top:1593.40px;font-size:18.9px">台湾 IPV6</div>
<div class="t c" style="left:478px;top:1593.40px;width:86px">Trojan</div>
<div class="t c" style="left:566px;top:1593.40px;width:104px">0ms</div>
<div class="t c" style="left:671px;top:1593.40px;width:123px">0</div>
<div class="t c" style="left:795.5px;top:1593.40px;width:141.5px">0ms</div>
<div class="t c" style="left:939px;top:1593.40px;width:107px">0B</div>
<div class="t c" style="left:1048px;top:1593.40px;width:107px">0B</div>
<div class="t c" style="left:1253px;top:1593.40px;width:215px">Unknown</div>
<div class="t c" style="left:0;top:1625.90px;width:70px">49</div>
<svg class="a" width="19" height="13" viewBox="0 0 19 13" style="left:75.5px;top:1635.40px"><rect width="19" height="13" rx="2" fill="#eeeeee"/><path d="M2 0h15a2 2 0 0 1 2 2v4.5H0V2a2 2 0 0 1 2-2z" fill="#e8202a"/><circle cx="3.9" cy="3.3" r="2.2" fill="#fff"/><circle cx="4.8" cy="3.3" r="2" fill="#e8202a"/><circle cx="6" cy="3.2" r=".9" fill="#fff" opacity=".8"/></svg>
<div class="t" style="left:99.5px;top:1625.90px;font-size:18.9px">新加坡 IPV6</div>
<div class="t c" style="left:478px;top:1625.90px;width:86px">Trojan</div>
<div class="t c" style="left:566px;top:1625.90px;width:104px">0ms</div>
<div class="t c" style="left:671px;top:1625.90px;width:123px">0</div>
<div class="t c" style="left:795.5px;top:1625.90px;width:141.5px">0ms</div>
<div class="t c" style="left:939px;top:1625.90px;width:107px">0B</div>
<div class="t c" style="left:1048px;top:1625.90px;width:107px">0B</div>
<div class="t c" style="left:1253px;top:1625.90px;width:215px">Unknown</div>
<div class="t c" style="left:0;top:1658.40px;width:70px">50</div>
<svg class="a" width="19" height="13" viewBox="0 0 19 13" style="left:75.5px;top:1667.90px"><rect width="19" height="13" rx="2" fill="#ececec"/><circle cx="9.5" cy="6.5" r="3.6" fill="#e0151b"/></svg>
<div class="t" style="left:99.5px;top:1658.40px;font-size:18.9px">日本 IPV6</div>
<div class="t c" style="left:478px;top:1658.40px;width:86px">Trojan</div>
<div class="t c" style="left:566px;top:1658.40px;width:104px">0ms</div>
<div class="t c" style="left:671px;top:1658.40px;width:123px">0</div>
<div class="t c" style="left:795.5px;top:1658.40px;width:141.5px">0ms</div>
<div class="t c" style="left:939px;top:1658.40px;width:107px">0B</div>
<div class="t c" style="left:1048px;top:1658.40px;width:107px">0B</div>
<div class="t c" style="left:1253px;top:1658.40px;width:215px">Unknown</div>
<div class="t c" style="left:0;top:1690.90px;width:70px">51</div>
<svg class="a" width="19" height="13" viewBox="0 0 19 13" style="left:75.5px;top:1700.40px"><rect width="19" height="13" rx="2" fill="#f2f2f2"/><rect y="0.00" width="19" height="1" fill="#e23a3a"/><rect y="2.00" width="19" height="1" fill="#e23a3a"/><rect y="4.00" width="19" height="1" fill="#e23a3a"/><rect y="6.00" width="19" height="1" fill="#e23a3a"/><rect y="8.00" width="19" height="1" fill="#e23a3a"/><rect y="10.00" width="19" height="1" fill="#e23a3a"/><rect y="12.00" width="19" height="1" fill="#e23a3a"/><rect x="0.3" y="0.3" width="8" height="6.5" fill="#3c3b6e"/><rect x="0.3" y="0.3" width="8" height="6.5" fill="#8a8ab0" opacity=".25"/></svg>
<div class="t" style="left:99.5px;top:1690.90px;font-size:18.9px">美国 IPV6</div>
<div class="t c" style="left:478px;top:1690.90px;width:86px">Trojan</div>
<div class="t c" style="left:566px;top:1690.90px;width:104px">0ms</div>
<div class="t c" style="left:671px;top:1690.90px;width:123px">0</div>
<div class="t c" style="left:795.5px;top:1690.90px;width:141.5px">0ms</div>
<div class="t c" style="left:939px;top:1690.90px;width:107px">0B</div>
<div class="t c" style="left:1048px;top:1690.90px;width:107px">0B</div>
<div class="t c" style="left:1253px;top:1690.90px;width:215px">Unknown</div>
<div class="a" style="left:0;top:1755px;width:1468px;height:65px;background:#e9e9e9"></div>
<svg class="a" width="20" height="20" viewBox="0 0 20 20" style="left:5px;top:1763px"><g><circle cx="14.2" cy="3.6" r=".9" fill="#f06060"/><circle cx="15.4" cy="2.4" r=".7" fill="#50c070"/><circle cx="16.2" cy="4.3" r=".8" fill="#f5c020"/><circle cx="9.6" cy="7.6" r=".8" fill="#50c070"/><circle cx="11.2" cy="8.2" r=".8" fill="#f06060"/><circle cx="8.4" cy="9.6" r=".8" fill="#f06060"/><circle cx="10.4" cy="9.8" r=".8" fill="#f5c020"/><circle cx="8.8" cy="11" r=".8" fill="#f5c020"/><circle cx="2.6" cy="14.6" r=".8" fill="#50c070"/><circle cx="4.4" cy="13.9" r=".8" fill="#f06060"/><circle cx="3.6" cy="16" r=".8" fill="#f5c020"/></g><path d="M13.6 0.6C12.2 4 13.6 8.6 9.2 12.3S2.6 13.2 0.6 13.6" stroke="#9b72d8" stroke-width="1.7" fill="none"/><path d="M18.8 4.8C14.5 6.2 7.6 6.8 5.9 10.2S6.6 14.8 4.7 18.6" stroke="#3ab4ec" stroke-width="1.7" fill="none"/></svg>
<svg class="a" width="19" height="19" viewBox="0 0 19 19" style="left:5px;top:1794px"><circle cx="9.3" cy="9.6" r="8.2" fill="#e6edf6" stroke="#6f95ab" stroke-width="1.5"/><path d="M9.3 3.6V9.6L13.6 6.7" stroke="#3a4650" stroke-width="1.2" fill="none"/></svg>
<div class="t" style="left:24px;top:1756px;line-height:30px;white-space:pre;font-size:19px">版本=1.8.1  后端=       华南-广西移动 1Gb(4.5.6-stable) 消耗流量=9.1GB  线程=1  排序=订阅原序  耗时=466s  Ping=9次  过滤器= &lt;-&gt;</div>
<div class="t" style="left:24px;top:1787px;line-height:30px;white-space:pre;font-size:19px">测试时间: 2024-11-26T02:45:43 (CST)  测试结果仅供参考，以实际情况为准</div>
</body></html>
